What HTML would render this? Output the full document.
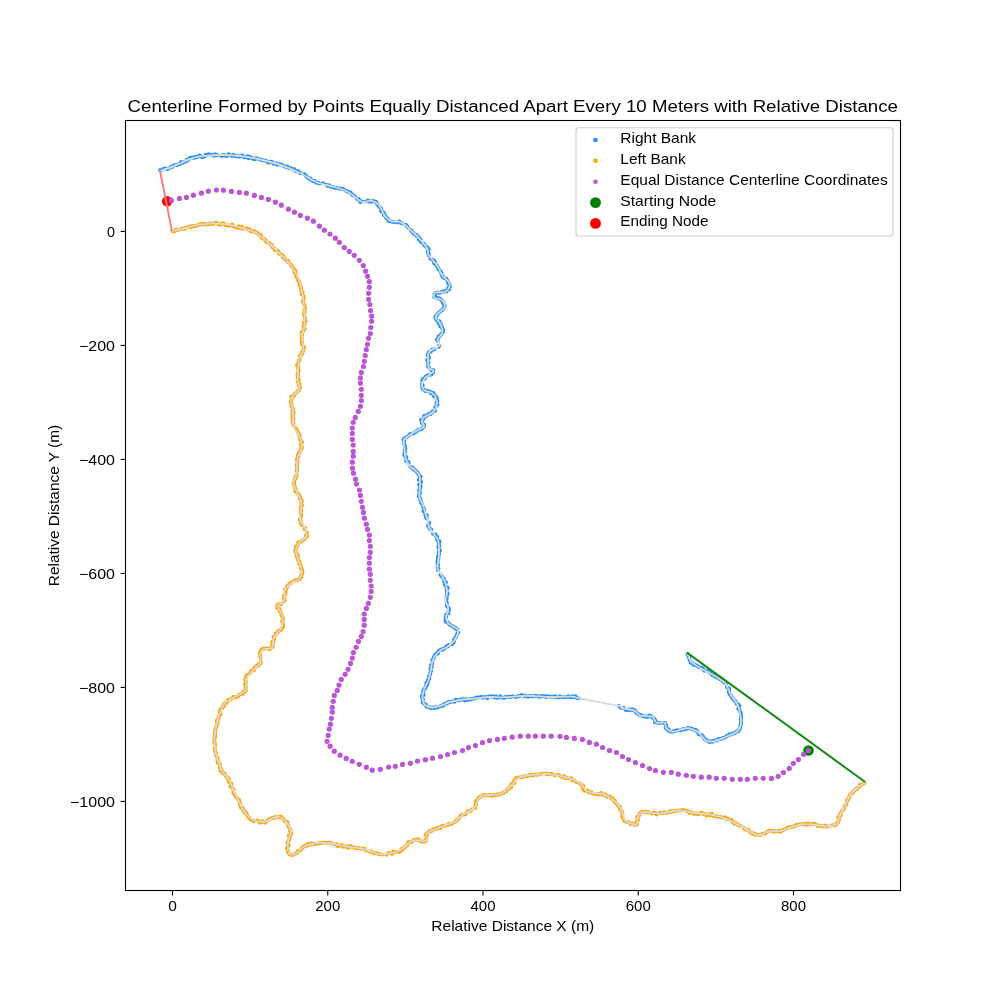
<!DOCTYPE html>
<html><head><meta charset="utf-8"><style>html,body{margin:0;padding:0;background:#fff;width:1000px;height:1000px;overflow:hidden}svg{will-change:transform}</style></head><body><svg width="1000" height="1000" viewBox="0 0 1000 1000" style="display:block;font-family:'Liberation Sans', sans-serif">
<rect width="1000" height="1000" fill="#fff"/>
<text x="127.6" y="112" font-size="17.2" textLength="770.4" lengthAdjust="spacingAndGlyphs" fill="#000">Centerline Formed by Points Equally Distanced Apart Every 10 Meters with Relative Distance</text>
<defs><clipPath id="ax"><rect x="125.5" y="120.5" width="775" height="770"/></clipPath></defs>
<g clip-path="url(#ax)" fill="none" stroke-linecap="round" stroke-linejoin="round">
<g fill="#1E90FF" stroke="none"><circle cx="159.9" cy="170.1" r="1.95"/><circle cx="161.1" cy="170.2" r="1.95"/><circle cx="163.6" cy="168.8" r="1.95"/><circle cx="165.3" cy="168.5" r="1.95"/><circle cx="167.3" cy="169.0" r="1.95"/><circle cx="169.1" cy="168.2" r="1.95"/><circle cx="170.9" cy="166.7" r="1.95"/><circle cx="172.4" cy="166.9" r="1.95"/><circle cx="173.5" cy="165.4" r="1.95"/><circle cx="175.3" cy="165.1" r="1.95"/><circle cx="177.1" cy="165.1" r="1.95"/><circle cx="178.6" cy="164.4" r="1.95"/><circle cx="179.8" cy="164.2" r="1.95"/><circle cx="181.0" cy="161.9" r="1.95"/><circle cx="183.0" cy="162.8" r="1.95"/><circle cx="184.4" cy="161.8" r="1.95"/><circle cx="186.3" cy="161.3" r="1.95"/><circle cx="186.9" cy="159.6" r="1.95"/><circle cx="188.4" cy="160.0" r="1.95"/><circle cx="189.3" cy="158.1" r="1.95"/><circle cx="191.2" cy="157.6" r="1.95"/><circle cx="192.9" cy="157.5" r="1.95"/><circle cx="194.3" cy="157.9" r="1.95"/><circle cx="195.4" cy="156.7" r="1.95"/><circle cx="196.8" cy="157.4" r="1.95"/><circle cx="198.5" cy="156.2" r="1.95"/><circle cx="199.8" cy="155.5" r="1.95"/><circle cx="201.8" cy="157.0" r="1.95"/><circle cx="202.6" cy="156.7" r="1.95"/><circle cx="204.6" cy="156.5" r="1.95"/><circle cx="205.8" cy="154.7" r="1.95"/><circle cx="207.0" cy="155.0" r="1.95"/><circle cx="208.5" cy="154.3" r="1.95"/><circle cx="210.7" cy="154.7" r="1.95"/><circle cx="211.9" cy="154.8" r="1.95"/><circle cx="214.1" cy="155.8" r="1.95"/><circle cx="215.0" cy="154.3" r="1.95"/><circle cx="216.7" cy="155.2" r="1.95"/><circle cx="218.2" cy="155.1" r="1.95"/><circle cx="221.8" cy="156.0" r="1.95"/><circle cx="222.8" cy="155.0" r="1.95"/><circle cx="224.4" cy="155.3" r="1.95"/><circle cx="226.3" cy="156.1" r="1.95"/><circle cx="227.4" cy="155.5" r="1.95"/><circle cx="228.8" cy="154.2" r="1.95"/><circle cx="231.0" cy="155.5" r="1.95"/><circle cx="232.5" cy="156.1" r="1.95"/><circle cx="233.4" cy="154.7" r="1.95"/><circle cx="235.4" cy="156.2" r="1.95"/><circle cx="236.2" cy="156.3" r="1.95"/><circle cx="238.2" cy="156.3" r="1.95"/><circle cx="239.3" cy="156.7" r="1.95"/><circle cx="241.0" cy="156.3" r="1.95"/><circle cx="242.4" cy="155.5" r="1.95"/><circle cx="243.8" cy="157.3" r="1.95"/><circle cx="245.6" cy="157.0" r="1.95"/><circle cx="247.7" cy="156.3" r="1.95"/><circle cx="248.6" cy="158.3" r="1.95"/><circle cx="250.1" cy="156.8" r="1.95"/><circle cx="251.5" cy="157.8" r="1.95"/><circle cx="253.0" cy="158.7" r="1.95"/><circle cx="254.5" cy="159.3" r="1.95"/><circle cx="256.1" cy="158.3" r="1.95"/><circle cx="257.2" cy="158.6" r="1.95"/><circle cx="259.3" cy="159.2" r="1.95"/><circle cx="260.7" cy="159.8" r="1.95"/><circle cx="262.0" cy="159.9" r="1.95"/><circle cx="263.8" cy="160.5" r="1.95"/><circle cx="265.5" cy="160.6" r="1.95"/><circle cx="266.8" cy="161.4" r="1.95"/><circle cx="268.3" cy="162.5" r="1.95"/><circle cx="270.0" cy="161.8" r="1.95"/><circle cx="271.1" cy="161.6" r="1.95"/><circle cx="272.4" cy="162.3" r="1.95"/><circle cx="273.5" cy="163.8" r="1.95"/><circle cx="276.1" cy="163.3" r="1.95"/><circle cx="276.8" cy="164.6" r="1.95"/><circle cx="278.0" cy="164.8" r="1.95"/><circle cx="279.6" cy="164.3" r="1.95"/><circle cx="281.4" cy="164.4" r="1.95"/><circle cx="283.8" cy="166.0" r="1.95"/><circle cx="285.6" cy="166.9" r="1.95"/><circle cx="287.4" cy="166.4" r="1.95"/><circle cx="288.5" cy="168.0" r="1.95"/><circle cx="290.1" cy="167.9" r="1.95"/><circle cx="290.9" cy="168.5" r="1.95"/><circle cx="293.0" cy="169.1" r="1.95"/><circle cx="294.4" cy="169.3" r="1.95"/><circle cx="295.3" cy="170.9" r="1.95"/><circle cx="296.7" cy="171.2" r="1.95"/><circle cx="298.3" cy="171.3" r="1.95"/><circle cx="299.7" cy="172.8" r="1.95"/><circle cx="300.8" cy="173.4" r="1.95"/><circle cx="304.5" cy="174.3" r="1.95"/><circle cx="305.6" cy="175.4" r="1.95"/><circle cx="306.7" cy="176.8" r="1.95"/><circle cx="308.2" cy="177.8" r="1.95"/><circle cx="309.2" cy="178.8" r="1.95"/><circle cx="310.5" cy="178.5" r="1.95"/><circle cx="311.6" cy="179.9" r="1.95"/><circle cx="313.3" cy="181.2" r="1.95"/><circle cx="314.5" cy="180.8" r="1.95"/><circle cx="315.5" cy="182.1" r="1.95"/><circle cx="316.9" cy="182.9" r="1.95"/><circle cx="318.4" cy="182.8" r="1.95"/><circle cx="319.9" cy="183.6" r="1.95"/><circle cx="323.0" cy="183.2" r="1.95"/><circle cx="326.2" cy="184.6" r="1.95"/><circle cx="327.5" cy="185.9" r="1.95"/><circle cx="329.3" cy="185.2" r="1.95"/><circle cx="330.0" cy="186.6" r="1.95"/><circle cx="332.2" cy="186.9" r="1.95"/><circle cx="333.6" cy="187.2" r="1.95"/><circle cx="335.1" cy="188.1" r="1.95"/><circle cx="336.4" cy="187.6" r="1.95"/><circle cx="337.9" cy="188.1" r="1.95"/><circle cx="339.6" cy="188.8" r="1.95"/><circle cx="341.7" cy="188.4" r="1.95"/><circle cx="342.8" cy="189.3" r="1.95"/><circle cx="343.9" cy="189.5" r="1.95"/><circle cx="345.8" cy="190.6" r="1.95"/><circle cx="346.8" cy="191.3" r="1.95"/><circle cx="348.0" cy="191.8" r="1.95"/><circle cx="349.8" cy="192.3" r="1.95"/><circle cx="350.8" cy="192.8" r="1.95"/><circle cx="352.0" cy="194.7" r="1.95"/><circle cx="353.3" cy="195.2" r="1.95"/><circle cx="355.1" cy="196.4" r="1.95"/><circle cx="357.0" cy="198.9" r="1.95"/><circle cx="358.8" cy="199.0" r="1.95"/><circle cx="359.6" cy="200.4" r="1.95"/><circle cx="360.3" cy="202.1" r="1.95"/><circle cx="362.4" cy="201.4" r="1.95"/><circle cx="366.1" cy="201.4" r="1.95"/><circle cx="368.0" cy="200.4" r="1.95"/><circle cx="369.2" cy="201.6" r="1.95"/><circle cx="370.7" cy="201.3" r="1.95"/><circle cx="372.2" cy="201.8" r="1.95"/><circle cx="373.6" cy="200.9" r="1.95"/><circle cx="375.9" cy="201.7" r="1.95"/><circle cx="376.5" cy="203.0" r="1.95"/><circle cx="377.8" cy="204.6" r="1.95"/><circle cx="378.4" cy="205.7" r="1.95"/><circle cx="379.5" cy="206.8" r="1.95"/><circle cx="380.6" cy="208.0" r="1.95"/><circle cx="381.3" cy="209.1" r="1.95"/><circle cx="381.1" cy="211.2" r="1.95"/><circle cx="382.6" cy="211.8" r="1.95"/><circle cx="384.3" cy="213.2" r="1.95"/><circle cx="383.9" cy="215.0" r="1.95"/><circle cx="384.9" cy="215.6" r="1.95"/><circle cx="385.9" cy="216.9" r="1.95"/><circle cx="386.5" cy="218.4" r="1.95"/><circle cx="388.0" cy="218.7" r="1.95"/><circle cx="388.5" cy="220.8" r="1.95"/><circle cx="390.1" cy="221.3" r="1.95"/><circle cx="392.0" cy="221.6" r="1.95"/><circle cx="393.0" cy="221.9" r="1.95"/><circle cx="395.0" cy="222.3" r="1.95"/><circle cx="398.2" cy="222.5" r="1.95"/><circle cx="399.3" cy="221.2" r="1.95"/><circle cx="401.2" cy="222.9" r="1.95"/><circle cx="402.1" cy="223.6" r="1.95"/><circle cx="405.6" cy="224.7" r="1.95"/><circle cx="406.3" cy="225.4" r="1.95"/><circle cx="407.2" cy="226.2" r="1.95"/><circle cx="408.1" cy="227.6" r="1.95"/><circle cx="411.0" cy="229.9" r="1.95"/><circle cx="411.4" cy="230.7" r="1.95"/><circle cx="412.2" cy="231.7" r="1.95"/><circle cx="413.4" cy="232.9" r="1.95"/><circle cx="414.1" cy="234.1" r="1.95"/><circle cx="416.2" cy="234.8" r="1.95"/><circle cx="416.8" cy="236.3" r="1.95"/><circle cx="418.7" cy="237.0" r="1.95"/><circle cx="418.8" cy="239.2" r="1.95"/><circle cx="420.5" cy="239.3" r="1.95"/><circle cx="420.6" cy="241.3" r="1.95"/><circle cx="421.6" cy="242.4" r="1.95"/><circle cx="424.0" cy="243.7" r="1.95"/><circle cx="424.3" cy="245.2" r="1.95"/><circle cx="425.2" cy="246.1" r="1.95"/><circle cx="426.5" cy="247.0" r="1.95"/><circle cx="427.7" cy="247.8" r="1.95"/><circle cx="428.8" cy="249.3" r="1.95"/><circle cx="427.8" cy="251.3" r="1.95"/><circle cx="427.9" cy="253.1" r="1.95"/><circle cx="428.8" cy="253.8" r="1.95"/><circle cx="428.8" cy="255.4" r="1.95"/><circle cx="430.3" cy="258.7" r="1.95"/><circle cx="432.2" cy="259.5" r="1.95"/><circle cx="433.7" cy="260.2" r="1.95"/><circle cx="435.0" cy="261.6" r="1.95"/><circle cx="434.1" cy="263.3" r="1.95"/><circle cx="435.8" cy="264.6" r="1.95"/><circle cx="437.0" cy="265.7" r="1.95"/><circle cx="437.5" cy="267.1" r="1.95"/><circle cx="438.3" cy="267.9" r="1.95"/><circle cx="438.5" cy="269.4" r="1.95"/><circle cx="440.0" cy="270.4" r="1.95"/><circle cx="441.3" cy="272.4" r="1.95"/><circle cx="441.3" cy="273.1" r="1.95"/><circle cx="441.6" cy="274.9" r="1.95"/><circle cx="442.8" cy="276.3" r="1.95"/><circle cx="443.2" cy="277.4" r="1.95"/><circle cx="444.8" cy="278.3" r="1.95"/><circle cx="446.4" cy="278.7" r="1.95"/><circle cx="447.3" cy="280.5" r="1.95"/><circle cx="448.3" cy="281.9" r="1.95"/><circle cx="448.2" cy="283.3" r="1.95"/><circle cx="449.4" cy="284.3" r="1.95"/><circle cx="450.0" cy="286.5" r="1.95"/><circle cx="448.5" cy="287.5" r="1.95"/><circle cx="449.1" cy="289.4" r="1.95"/><circle cx="447.5" cy="289.8" r="1.95"/><circle cx="446.5" cy="291.5" r="1.95"/><circle cx="444.8" cy="291.3" r="1.95"/><circle cx="443.3" cy="291.7" r="1.95"/><circle cx="442.1" cy="291.4" r="1.95"/><circle cx="440.5" cy="292.6" r="1.95"/><circle cx="438.8" cy="292.7" r="1.95"/><circle cx="437.4" cy="292.4" r="1.95"/><circle cx="435.7" cy="293.0" r="1.95"/><circle cx="434.4" cy="294.1" r="1.95"/><circle cx="434.9" cy="295.7" r="1.95"/><circle cx="434.2" cy="296.9" r="1.95"/><circle cx="435.4" cy="297.4" r="1.95"/><circle cx="436.7" cy="297.8" r="1.95"/><circle cx="437.7" cy="298.0" r="1.95"/><circle cx="439.7" cy="298.4" r="1.95"/><circle cx="440.8" cy="299.4" r="1.95"/><circle cx="441.8" cy="300.8" r="1.95"/><circle cx="442.9" cy="302.4" r="1.95"/><circle cx="443.5" cy="303.1" r="1.95"/><circle cx="443.9" cy="304.3" r="1.95"/><circle cx="444.7" cy="305.6" r="1.95"/><circle cx="444.4" cy="307.0" r="1.95"/><circle cx="443.0" cy="308.7" r="1.95"/><circle cx="442.6" cy="309.6" r="1.95"/><circle cx="441.5" cy="310.7" r="1.95"/><circle cx="440.0" cy="311.4" r="1.95"/><circle cx="438.6" cy="312.9" r="1.95"/><circle cx="437.5" cy="313.9" r="1.95"/><circle cx="437.1" cy="315.3" r="1.95"/><circle cx="435.4" cy="316.8" r="1.95"/><circle cx="435.4" cy="318.1" r="1.95"/><circle cx="436.1" cy="319.5" r="1.95"/><circle cx="437.4" cy="320.9" r="1.95"/><circle cx="439.5" cy="321.2" r="1.95"/><circle cx="438.8" cy="323.5" r="1.95"/><circle cx="441.0" cy="324.1" r="1.95"/><circle cx="440.3" cy="326.2" r="1.95"/><circle cx="442.1" cy="327.0" r="1.95"/><circle cx="442.1" cy="328.3" r="1.95"/><circle cx="443.4" cy="330.1" r="1.95"/><circle cx="443.2" cy="331.5" r="1.95"/><circle cx="441.6" cy="333.4" r="1.95"/><circle cx="441.4" cy="334.1" r="1.95"/><circle cx="440.2" cy="335.9" r="1.95"/><circle cx="438.7" cy="336.3" r="1.95"/><circle cx="437.9" cy="338.5" r="1.95"/><circle cx="436.8" cy="339.6" r="1.95"/><circle cx="437.8" cy="340.9" r="1.95"/><circle cx="439.1" cy="345.4" r="1.95"/><circle cx="438.6" cy="347.1" r="1.95"/><circle cx="434.4" cy="349.3" r="1.95"/><circle cx="432.3" cy="349.4" r="1.95"/><circle cx="431.8" cy="350.5" r="1.95"/><circle cx="430.6" cy="351.8" r="1.95"/><circle cx="429.0" cy="352.0" r="1.95"/><circle cx="428.2" cy="353.8" r="1.95"/><circle cx="427.5" cy="355.1" r="1.95"/><circle cx="428.7" cy="356.8" r="1.95"/><circle cx="428.9" cy="358.0" r="1.95"/><circle cx="427.1" cy="359.9" r="1.95"/><circle cx="428.4" cy="361.9" r="1.95"/><circle cx="428.6" cy="362.8" r="1.95"/><circle cx="428.2" cy="364.3" r="1.95"/><circle cx="428.1" cy="366.6" r="1.95"/><circle cx="429.1" cy="367.5" r="1.95"/><circle cx="431.5" cy="370.2" r="1.95"/><circle cx="433.4" cy="370.1" r="1.95"/><circle cx="433.1" cy="371.8" r="1.95"/><circle cx="432.7" cy="372.9" r="1.95"/><circle cx="431.5" cy="374.4" r="1.95"/><circle cx="430.1" cy="374.9" r="1.95"/><circle cx="428.1" cy="375.1" r="1.95"/><circle cx="426.6" cy="376.0" r="1.95"/><circle cx="425.3" cy="377.0" r="1.95"/><circle cx="424.7" cy="378.7" r="1.95"/><circle cx="422.9" cy="378.9" r="1.95"/><circle cx="422.2" cy="380.5" r="1.95"/><circle cx="421.8" cy="384.1" r="1.95"/><circle cx="422.8" cy="385.4" r="1.95"/><circle cx="422.1" cy="387.0" r="1.95"/><circle cx="422.7" cy="388.8" r="1.95"/><circle cx="424.1" cy="389.8" r="1.95"/><circle cx="425.3" cy="391.0" r="1.95"/><circle cx="426.4" cy="390.8" r="1.95"/><circle cx="428.2" cy="391.0" r="1.95"/><circle cx="430.0" cy="391.6" r="1.95"/><circle cx="430.9" cy="393.6" r="1.95"/><circle cx="432.9" cy="392.6" r="1.95"/><circle cx="434.1" cy="394.3" r="1.95"/><circle cx="434.0" cy="396.2" r="1.95"/><circle cx="436.1" cy="396.8" r="1.95"/><circle cx="436.9" cy="398.2" r="1.95"/><circle cx="437.0" cy="399.6" r="1.95"/><circle cx="437.4" cy="401.2" r="1.95"/><circle cx="436.4" cy="402.7" r="1.95"/><circle cx="437.6" cy="404.8" r="1.95"/><circle cx="436.2" cy="405.9" r="1.95"/><circle cx="435.1" cy="407.6" r="1.95"/><circle cx="435.0" cy="410.7" r="1.95"/><circle cx="432.6" cy="411.2" r="1.95"/><circle cx="432.1" cy="412.5" r="1.95"/><circle cx="430.7" cy="414.1" r="1.95"/><circle cx="429.0" cy="413.8" r="1.95"/><circle cx="427.6" cy="414.9" r="1.95"/><circle cx="426.5" cy="416.0" r="1.95"/><circle cx="424.4" cy="415.8" r="1.95"/><circle cx="423.9" cy="417.4" r="1.95"/><circle cx="423.5" cy="418.9" r="1.95"/><circle cx="421.0" cy="419.6" r="1.95"/><circle cx="421.6" cy="421.5" r="1.95"/><circle cx="421.9" cy="422.9" r="1.95"/><circle cx="424.1" cy="424.4" r="1.95"/><circle cx="424.2" cy="426.0" r="1.95"/><circle cx="423.0" cy="427.4" r="1.95"/><circle cx="422.0" cy="428.4" r="1.95"/><circle cx="420.6" cy="429.6" r="1.95"/><circle cx="418.7" cy="429.5" r="1.95"/><circle cx="417.1" cy="430.7" r="1.95"/><circle cx="416.2" cy="431.6" r="1.95"/><circle cx="414.6" cy="432.4" r="1.95"/><circle cx="413.3" cy="433.5" r="1.95"/><circle cx="411.8" cy="433.6" r="1.95"/><circle cx="409.6" cy="434.1" r="1.95"/><circle cx="409.1" cy="435.3" r="1.95"/><circle cx="407.6" cy="436.6" r="1.95"/><circle cx="406.4" cy="437.3" r="1.95"/><circle cx="404.3" cy="438.1" r="1.95"/><circle cx="403.5" cy="439.7" r="1.95"/><circle cx="404.3" cy="440.9" r="1.95"/><circle cx="404.1" cy="443.6" r="1.95"/><circle cx="404.7" cy="445.5" r="1.95"/><circle cx="405.1" cy="446.7" r="1.95"/><circle cx="405.4" cy="448.7" r="1.95"/><circle cx="404.7" cy="449.7" r="1.95"/><circle cx="405.0" cy="451.7" r="1.95"/><circle cx="404.6" cy="453.0" r="1.95"/><circle cx="404.2" cy="454.9" r="1.95"/><circle cx="405.1" cy="456.0" r="1.95"/><circle cx="406.4" cy="457.2" r="1.95"/><circle cx="406.1" cy="458.8" r="1.95"/><circle cx="406.1" cy="460.9" r="1.95"/><circle cx="408.1" cy="461.8" r="1.95"/><circle cx="408.8" cy="463.0" r="1.95"/><circle cx="410.4" cy="466.7" r="1.95"/><circle cx="412.5" cy="467.4" r="1.95"/><circle cx="413.1" cy="469.1" r="1.95"/><circle cx="414.7" cy="470.0" r="1.95"/><circle cx="415.6" cy="470.8" r="1.95"/><circle cx="416.9" cy="471.8" r="1.95"/><circle cx="417.5" cy="472.7" r="1.95"/><circle cx="418.3" cy="473.9" r="1.95"/><circle cx="419.3" cy="475.4" r="1.95"/><circle cx="420.8" cy="476.6" r="1.95"/><circle cx="419.9" cy="478.1" r="1.95"/><circle cx="418.8" cy="479.7" r="1.95"/><circle cx="420.9" cy="481.3" r="1.95"/><circle cx="420.7" cy="482.8" r="1.95"/><circle cx="419.0" cy="484.6" r="1.95"/><circle cx="420.6" cy="485.9" r="1.95"/><circle cx="420.1" cy="487.2" r="1.95"/><circle cx="420.0" cy="489.3" r="1.95"/><circle cx="419.0" cy="490.5" r="1.95"/><circle cx="419.9" cy="492.3" r="1.95"/><circle cx="419.5" cy="493.5" r="1.95"/><circle cx="419.4" cy="494.8" r="1.95"/><circle cx="418.8" cy="496.3" r="1.95"/><circle cx="420.3" cy="498.2" r="1.95"/><circle cx="420.3" cy="500.0" r="1.95"/><circle cx="420.9" cy="501.3" r="1.95"/><circle cx="421.2" cy="502.7" r="1.95"/><circle cx="421.7" cy="503.6" r="1.95"/><circle cx="423.0" cy="506.6" r="1.95"/><circle cx="423.5" cy="507.9" r="1.95"/><circle cx="424.3" cy="509.3" r="1.95"/><circle cx="423.6" cy="511.2" r="1.95"/><circle cx="425.2" cy="514.4" r="1.95"/><circle cx="426.9" cy="515.3" r="1.95"/><circle cx="426.0" cy="517.3" r="1.95"/><circle cx="426.8" cy="518.5" r="1.95"/><circle cx="429.3" cy="522.8" r="1.95"/><circle cx="428.6" cy="524.7" r="1.95"/><circle cx="428.0" cy="525.7" r="1.95"/><circle cx="429.2" cy="527.7" r="1.95"/><circle cx="429.9" cy="528.7" r="1.95"/><circle cx="431.5" cy="529.8" r="1.95"/><circle cx="433.0" cy="533.8" r="1.95"/><circle cx="435.4" cy="534.5" r="1.95"/><circle cx="435.9" cy="535.9" r="1.95"/><circle cx="437.3" cy="536.9" r="1.95"/><circle cx="437.1" cy="538.6" r="1.95"/><circle cx="437.5" cy="540.3" r="1.95"/><circle cx="439.5" cy="541.3" r="1.95"/><circle cx="439.0" cy="543.0" r="1.95"/><circle cx="438.5" cy="544.1" r="1.95"/><circle cx="439.3" cy="545.7" r="1.95"/><circle cx="438.3" cy="547.0" r="1.95"/><circle cx="439.2" cy="549.1" r="1.95"/><circle cx="440.0" cy="550.6" r="1.95"/><circle cx="438.7" cy="552.1" r="1.95"/><circle cx="438.9" cy="553.3" r="1.95"/><circle cx="439.0" cy="554.8" r="1.95"/><circle cx="437.8" cy="556.7" r="1.95"/><circle cx="438.5" cy="558.0" r="1.95"/><circle cx="438.0" cy="559.2" r="1.95"/><circle cx="437.7" cy="561.2" r="1.95"/><circle cx="437.4" cy="562.7" r="1.95"/><circle cx="438.0" cy="564.2" r="1.95"/><circle cx="437.8" cy="565.7" r="1.95"/><circle cx="437.6" cy="567.5" r="1.95"/><circle cx="438.4" cy="568.6" r="1.95"/><circle cx="438.0" cy="570.0" r="1.95"/><circle cx="440.5" cy="574.4" r="1.95"/><circle cx="441.2" cy="575.9" r="1.95"/><circle cx="442.3" cy="576.7" r="1.95"/><circle cx="444.1" cy="579.0" r="1.95"/><circle cx="444.0" cy="581.6" r="1.95"/><circle cx="446.0" cy="582.2" r="1.95"/><circle cx="444.8" cy="584.3" r="1.95"/><circle cx="445.5" cy="585.7" r="1.95"/><circle cx="447.5" cy="587.4" r="1.95"/><circle cx="447.4" cy="588.4" r="1.95"/><circle cx="446.6" cy="589.7" r="1.95"/><circle cx="446.8" cy="592.0" r="1.95"/><circle cx="447.7" cy="593.6" r="1.95"/><circle cx="447.1" cy="594.9" r="1.95"/><circle cx="446.6" cy="595.8" r="1.95"/><circle cx="446.5" cy="597.4" r="1.95"/><circle cx="446.7" cy="598.9" r="1.95"/><circle cx="446.5" cy="602.0" r="1.95"/><circle cx="446.8" cy="602.7" r="1.95"/><circle cx="446.6" cy="604.9" r="1.95"/><circle cx="447.2" cy="606.4" r="1.95"/><circle cx="448.2" cy="607.6" r="1.95"/><circle cx="449.2" cy="608.9" r="1.95"/><circle cx="448.6" cy="610.9" r="1.95"/><circle cx="448.5" cy="612.0" r="1.95"/><circle cx="448.4" cy="613.4" r="1.95"/><circle cx="446.1" cy="614.8" r="1.95"/><circle cx="446.2" cy="616.4" r="1.95"/><circle cx="445.6" cy="617.7" r="1.95"/><circle cx="445.3" cy="619.9" r="1.95"/><circle cx="445.8" cy="621.7" r="1.95"/><circle cx="447.8" cy="622.5" r="1.95"/><circle cx="449.0" cy="623.6" r="1.95"/><circle cx="449.6" cy="624.5" r="1.95"/><circle cx="450.9" cy="625.4" r="1.95"/><circle cx="452.7" cy="626.2" r="1.95"/><circle cx="454.1" cy="627.4" r="1.95"/><circle cx="455.4" cy="627.6" r="1.95"/><circle cx="456.3" cy="629.2" r="1.95"/><circle cx="457.6" cy="629.8" r="1.95"/><circle cx="458.4" cy="632.6" r="1.95"/><circle cx="457.0" cy="633.9" r="1.95"/><circle cx="456.5" cy="635.9" r="1.95"/><circle cx="456.0" cy="637.4" r="1.95"/><circle cx="454.9" cy="638.3" r="1.95"/><circle cx="453.9" cy="639.9" r="1.95"/><circle cx="453.6" cy="641.2" r="1.95"/><circle cx="453.6" cy="642.6" r="1.95"/><circle cx="451.9" cy="644.2" r="1.95"/><circle cx="448.7" cy="644.9" r="1.95"/><circle cx="447.8" cy="646.5" r="1.95"/><circle cx="446.4" cy="646.3" r="1.95"/><circle cx="445.2" cy="647.7" r="1.95"/><circle cx="443.6" cy="648.7" r="1.95"/><circle cx="442.7" cy="649.8" r="1.95"/><circle cx="441.0" cy="649.5" r="1.95"/><circle cx="439.5" cy="650.4" r="1.95"/><circle cx="438.2" cy="651.4" r="1.95"/><circle cx="437.9" cy="653.5" r="1.95"/><circle cx="436.2" cy="653.7" r="1.95"/><circle cx="435.0" cy="654.9" r="1.95"/><circle cx="434.1" cy="656.8" r="1.95"/><circle cx="433.8" cy="657.9" r="1.95"/><circle cx="432.6" cy="659.6" r="1.95"/><circle cx="432.4" cy="661.1" r="1.95"/><circle cx="432.3" cy="663.8" r="1.95"/><circle cx="430.9" cy="665.1" r="1.95"/><circle cx="431.7" cy="666.8" r="1.95"/><circle cx="430.5" cy="668.5" r="1.95"/><circle cx="430.6" cy="670.0" r="1.95"/><circle cx="430.9" cy="671.3" r="1.95"/><circle cx="430.3" cy="672.9" r="1.95"/><circle cx="430.2" cy="674.6" r="1.95"/><circle cx="429.2" cy="676.1" r="1.95"/><circle cx="429.3" cy="677.4" r="1.95"/><circle cx="429.1" cy="679.1" r="1.95"/><circle cx="427.8" cy="680.2" r="1.95"/><circle cx="428.2" cy="681.9" r="1.95"/><circle cx="426.2" cy="682.9" r="1.95"/><circle cx="427.3" cy="684.8" r="1.95"/><circle cx="425.7" cy="686.2" r="1.95"/><circle cx="425.7" cy="687.7" r="1.95"/><circle cx="424.5" cy="688.9" r="1.95"/><circle cx="423.5" cy="689.9" r="1.95"/><circle cx="423.2" cy="691.5" r="1.95"/><circle cx="423.0" cy="692.8" r="1.95"/><circle cx="423.7" cy="694.9" r="1.95"/><circle cx="421.8" cy="696.0" r="1.95"/><circle cx="421.9" cy="697.5" r="1.95"/><circle cx="422.9" cy="698.9" r="1.95"/><circle cx="422.7" cy="700.7" r="1.95"/><circle cx="422.8" cy="702.6" r="1.95"/><circle cx="424.1" cy="703.7" r="1.95"/><circle cx="425.8" cy="704.4" r="1.95"/><circle cx="426.3" cy="706.2" r="1.95"/><circle cx="427.0" cy="706.9" r="1.95"/><circle cx="429.6" cy="707.3" r="1.95"/><circle cx="430.8" cy="708.2" r="1.95"/><circle cx="432.4" cy="707.4" r="1.95"/><circle cx="434.1" cy="708.2" r="1.95"/><circle cx="435.2" cy="707.1" r="1.95"/><circle cx="437.3" cy="707.5" r="1.95"/><circle cx="438.8" cy="706.6" r="1.95"/><circle cx="439.9" cy="706.4" r="1.95"/><circle cx="441.5" cy="705.7" r="1.95"/><circle cx="443.1" cy="705.7" r="1.95"/><circle cx="443.8" cy="704.1" r="1.95"/><circle cx="445.4" cy="703.5" r="1.95"/><circle cx="447.0" cy="703.6" r="1.95"/><circle cx="448.2" cy="702.0" r="1.95"/><circle cx="449.7" cy="702.2" r="1.95"/><circle cx="451.6" cy="701.5" r="1.95"/><circle cx="452.7" cy="701.4" r="1.95"/><circle cx="454.4" cy="701.7" r="1.95"/><circle cx="455.7" cy="699.8" r="1.95"/><circle cx="457.1" cy="700.1" r="1.95"/><circle cx="458.5" cy="700.3" r="1.95"/><circle cx="460.6" cy="699.5" r="1.95"/><circle cx="461.4" cy="699.7" r="1.95"/><circle cx="463.1" cy="699.3" r="1.95"/><circle cx="464.8" cy="700.5" r="1.95"/><circle cx="466.0" cy="699.2" r="1.95"/><circle cx="467.6" cy="700.1" r="1.95"/><circle cx="469.3" cy="699.1" r="1.95"/><circle cx="470.7" cy="699.6" r="1.95"/><circle cx="472.2" cy="698.6" r="1.95"/><circle cx="473.8" cy="698.8" r="1.95"/><circle cx="475.8" cy="697.8" r="1.95"/><circle cx="477.0" cy="697.5" r="1.95"/><circle cx="478.1" cy="697.6" r="1.95"/><circle cx="479.7" cy="697.3" r="1.95"/><circle cx="481.5" cy="696.8" r="1.95"/><circle cx="482.7" cy="697.7" r="1.95"/><circle cx="484.4" cy="697.1" r="1.95"/><circle cx="485.8" cy="696.9" r="1.95"/><circle cx="487.3" cy="698.3" r="1.95"/><circle cx="488.9" cy="696.3" r="1.95"/><circle cx="490.8" cy="696.6" r="1.95"/><circle cx="492.0" cy="696.3" r="1.95"/><circle cx="493.4" cy="696.4" r="1.95"/><circle cx="494.6" cy="697.6" r="1.95"/><circle cx="496.0" cy="696.4" r="1.95"/><circle cx="497.3" cy="697.9" r="1.95"/><circle cx="498.8" cy="697.4" r="1.95"/><circle cx="500.3" cy="696.3" r="1.95"/><circle cx="501.9" cy="697.6" r="1.95"/><circle cx="504.1" cy="698.1" r="1.95"/><circle cx="505.0" cy="697.0" r="1.95"/><circle cx="506.6" cy="697.1" r="1.95"/><circle cx="508.3" cy="696.6" r="1.95"/><circle cx="509.1" cy="696.8" r="1.95"/><circle cx="510.6" cy="696.9" r="1.95"/><circle cx="512.2" cy="696.2" r="1.95"/><circle cx="515.3" cy="697.0" r="1.95"/><circle cx="516.9" cy="696.7" r="1.95"/><circle cx="518.2" cy="696.3" r="1.95"/><circle cx="519.9" cy="696.0" r="1.95"/><circle cx="521.6" cy="694.9" r="1.95"/><circle cx="523.7" cy="695.6" r="1.95"/><circle cx="524.9" cy="696.4" r="1.95"/><circle cx="526.2" cy="695.8" r="1.95"/><circle cx="528.2" cy="696.7" r="1.95"/><circle cx="529.5" cy="695.7" r="1.95"/><circle cx="531.0" cy="696.1" r="1.95"/><circle cx="532.1" cy="696.5" r="1.95"/><circle cx="534.1" cy="696.0" r="1.95"/><circle cx="535.3" cy="695.8" r="1.95"/><circle cx="536.8" cy="695.9" r="1.95"/><circle cx="538.6" cy="696.4" r="1.95"/><circle cx="540.0" cy="696.8" r="1.95"/><circle cx="541.8" cy="695.9" r="1.95"/><circle cx="543.3" cy="696.4" r="1.95"/><circle cx="544.7" cy="696.3" r="1.95"/><circle cx="546.2" cy="697.0" r="1.95"/><circle cx="547.3" cy="696.3" r="1.95"/><circle cx="549.2" cy="696.4" r="1.95"/><circle cx="550.5" cy="696.6" r="1.95"/><circle cx="551.7" cy="696.7" r="1.95"/><circle cx="553.8" cy="696.7" r="1.95"/><circle cx="555.3" cy="696.3" r="1.95"/><circle cx="556.6" cy="697.4" r="1.95"/><circle cx="559.0" cy="697.3" r="1.95"/><circle cx="560.0" cy="696.1" r="1.95"/><circle cx="561.8" cy="697.1" r="1.95"/><circle cx="563.9" cy="697.1" r="1.95"/><circle cx="565.3" cy="697.1" r="1.95"/><circle cx="566.5" cy="697.1" r="1.95"/><circle cx="568.3" cy="696.2" r="1.95"/><circle cx="569.5" cy="697.0" r="1.95"/><circle cx="571.4" cy="697.3" r="1.95"/><circle cx="572.4" cy="696.2" r="1.95"/><circle cx="574.0" cy="697.1" r="1.95"/><circle cx="575.5" cy="696.3" r="1.95"/><circle cx="576.9" cy="698.1" r="1.95"/><circle cx="578.7" cy="698.4" r="1.95"/></g>
<g fill="#1E90FF" stroke="none"><circle cx="618.9" cy="705.9" r="1.95"/><circle cx="620.4" cy="707.6" r="1.95"/><circle cx="622.1" cy="707.7" r="1.95"/><circle cx="623.5" cy="707.8" r="1.95"/><circle cx="625.5" cy="709.8" r="1.95"/><circle cx="626.8" cy="710.0" r="1.95"/><circle cx="628.4" cy="709.4" r="1.95"/><circle cx="629.8" cy="710.4" r="1.95"/><circle cx="631.9" cy="709.1" r="1.95"/><circle cx="632.9" cy="710.0" r="1.95"/><circle cx="634.7" cy="710.3" r="1.95"/><circle cx="635.5" cy="711.2" r="1.95"/><circle cx="636.2" cy="712.7" r="1.95"/><circle cx="637.7" cy="713.5" r="1.95"/><circle cx="639.0" cy="714.6" r="1.95"/><circle cx="640.5" cy="714.9" r="1.95"/><circle cx="641.4" cy="715.6" r="1.95"/><circle cx="643.5" cy="716.3" r="1.95"/><circle cx="645.2" cy="716.6" r="1.95"/><circle cx="646.4" cy="716.4" r="1.95"/><circle cx="647.7" cy="717.0" r="1.95"/><circle cx="649.2" cy="715.5" r="1.95"/><circle cx="650.9" cy="716.1" r="1.95"/><circle cx="652.2" cy="717.6" r="1.95"/><circle cx="653.2" cy="717.8" r="1.95"/><circle cx="654.6" cy="719.1" r="1.95"/><circle cx="655.2" cy="720.5" r="1.95"/><circle cx="655.0" cy="722.3" r="1.95"/><circle cx="657.0" cy="722.5" r="1.95"/><circle cx="658.1" cy="722.9" r="1.95"/><circle cx="660.2" cy="722.9" r="1.95"/><circle cx="663.3" cy="722.9" r="1.95"/><circle cx="664.9" cy="722.8" r="1.95"/><circle cx="665.7" cy="724.6" r="1.95"/><circle cx="666.3" cy="725.7" r="1.95"/><circle cx="665.6" cy="727.6" r="1.95"/><circle cx="666.6" cy="729.1" r="1.95"/><circle cx="668.5" cy="729.2" r="1.95"/><circle cx="668.7" cy="730.7" r="1.95"/><circle cx="670.6" cy="731.6" r="1.95"/><circle cx="672.5" cy="731.5" r="1.95"/><circle cx="673.6" cy="731.5" r="1.95"/><circle cx="675.1" cy="731.0" r="1.95"/><circle cx="676.7" cy="730.2" r="1.95"/><circle cx="678.1" cy="730.5" r="1.95"/><circle cx="680.6" cy="730.3" r="1.95"/><circle cx="682.0" cy="730.0" r="1.95"/><circle cx="683.2" cy="728.9" r="1.95"/><circle cx="685.3" cy="729.2" r="1.95"/><circle cx="686.5" cy="728.7" r="1.95"/><circle cx="687.8" cy="727.9" r="1.95"/><circle cx="689.3" cy="728.5" r="1.95"/><circle cx="690.8" cy="728.4" r="1.95"/><circle cx="692.3" cy="729.0" r="1.95"/><circle cx="694.1" cy="729.7" r="1.95"/><circle cx="695.6" cy="729.8" r="1.95"/><circle cx="697.0" cy="731.3" r="1.95"/><circle cx="697.6" cy="732.0" r="1.95"/><circle cx="698.6" cy="733.9" r="1.95"/><circle cx="699.6" cy="734.6" r="1.95"/><circle cx="701.6" cy="734.9" r="1.95"/><circle cx="703.0" cy="736.4" r="1.95"/><circle cx="703.9" cy="738.1" r="1.95"/><circle cx="704.9" cy="739.3" r="1.95"/><circle cx="706.1" cy="739.8" r="1.95"/><circle cx="706.8" cy="740.4" r="1.95"/><circle cx="708.4" cy="741.4" r="1.95"/><circle cx="709.6" cy="742.0" r="1.95"/><circle cx="710.7" cy="741.3" r="1.95"/><circle cx="712.3" cy="741.7" r="1.95"/><circle cx="713.9" cy="740.4" r="1.95"/><circle cx="715.8" cy="740.6" r="1.95"/><circle cx="716.8" cy="740.4" r="1.95"/><circle cx="718.4" cy="739.0" r="1.95"/><circle cx="719.9" cy="739.3" r="1.95"/><circle cx="721.6" cy="738.8" r="1.95"/><circle cx="723.0" cy="737.9" r="1.95"/><circle cx="724.6" cy="737.6" r="1.95"/><circle cx="725.8" cy="736.9" r="1.95"/><circle cx="727.0" cy="735.7" r="1.95"/><circle cx="729.2" cy="735.3" r="1.95"/><circle cx="729.7" cy="734.1" r="1.95"/><circle cx="731.9" cy="734.2" r="1.95"/><circle cx="732.9" cy="733.3" r="1.95"/><circle cx="734.7" cy="733.3" r="1.95"/><circle cx="736.0" cy="731.9" r="1.95"/><circle cx="737.1" cy="731.3" r="1.95"/><circle cx="738.2" cy="731.3" r="1.95"/><circle cx="739.2" cy="729.8" r="1.95"/><circle cx="739.9" cy="728.4" r="1.95"/><circle cx="740.4" cy="726.5" r="1.95"/><circle cx="740.4" cy="725.0" r="1.95"/><circle cx="741.1" cy="724.1" r="1.95"/><circle cx="741.0" cy="722.5" r="1.95"/><circle cx="740.9" cy="721.0" r="1.95"/><circle cx="740.7" cy="719.5" r="1.95"/><circle cx="741.2" cy="717.4" r="1.95"/><circle cx="740.9" cy="716.0" r="1.95"/><circle cx="740.9" cy="713.9" r="1.95"/><circle cx="740.5" cy="712.2" r="1.95"/><circle cx="740.0" cy="711.6" r="1.95"/><circle cx="739.3" cy="709.4" r="1.95"/><circle cx="738.2" cy="708.8" r="1.95"/><circle cx="739.5" cy="706.0" r="1.95"/><circle cx="738.4" cy="704.5" r="1.95"/><circle cx="736.6" cy="703.7" r="1.95"/><circle cx="735.5" cy="701.2" r="1.95"/><circle cx="733.9" cy="700.1" r="1.95"/><circle cx="733.2" cy="698.9" r="1.95"/><circle cx="732.3" cy="697.7" r="1.95"/><circle cx="731.6" cy="696.5" r="1.95"/><circle cx="730.3" cy="694.7" r="1.95"/><circle cx="729.4" cy="693.7" r="1.95"/><circle cx="728.7" cy="692.1" r="1.95"/><circle cx="728.9" cy="690.5" r="1.95"/><circle cx="729.2" cy="688.8" r="1.95"/><circle cx="728.2" cy="687.8" r="1.95"/><circle cx="726.8" cy="687.0" r="1.95"/><circle cx="725.9" cy="683.5" r="1.95"/><circle cx="724.0" cy="682.6" r="1.95"/><circle cx="724.2" cy="680.8" r="1.95"/><circle cx="722.3" cy="680.8" r="1.95"/><circle cx="721.2" cy="679.2" r="1.95"/><circle cx="720.0" cy="679.3" r="1.95"/><circle cx="718.8" cy="677.8" r="1.95"/><circle cx="717.0" cy="677.5" r="1.95"/><circle cx="715.9" cy="676.9" r="1.95"/><circle cx="714.6" cy="676.0" r="1.95"/><circle cx="713.6" cy="674.8" r="1.95"/><circle cx="712.1" cy="675.0" r="1.95"/><circle cx="710.8" cy="673.3" r="1.95"/><circle cx="709.3" cy="672.4" r="1.95"/><circle cx="708.4" cy="671.1" r="1.95"/><circle cx="707.0" cy="670.5" r="1.95"/><circle cx="704.5" cy="670.8" r="1.95"/><circle cx="703.5" cy="669.4" r="1.95"/><circle cx="702.7" cy="668.2" r="1.95"/><circle cx="701.1" cy="667.4" r="1.95"/><circle cx="699.3" cy="667.4" r="1.95"/><circle cx="698.0" cy="666.5" r="1.95"/><circle cx="696.4" cy="665.4" r="1.95"/><circle cx="694.9" cy="665.0" r="1.95"/><circle cx="693.7" cy="664.9" r="1.95"/><circle cx="693.0" cy="663.5" r="1.95"/><circle cx="691.2" cy="662.9" r="1.95"/><circle cx="690.5" cy="661.7" r="1.95"/><circle cx="689.6" cy="660.0" r="1.95"/><circle cx="689.2" cy="658.6" r="1.95"/><circle cx="689.0" cy="656.4" r="1.95"/><circle cx="688.0" cy="655.4" r="1.95"/><circle cx="687.5" cy="653.6" r="1.95"/></g>
<g fill="#FFA500" stroke="none"><circle cx="172.3" cy="230.9" r="1.95"/><circle cx="173.4" cy="231.4" r="1.95"/><circle cx="174.8" cy="231.2" r="1.95"/><circle cx="176.0" cy="229.4" r="1.95"/><circle cx="177.5" cy="230.0" r="1.95"/><circle cx="179.2" cy="229.6" r="1.95"/><circle cx="180.8" cy="229.3" r="1.95"/><circle cx="182.5" cy="228.8" r="1.95"/><circle cx="184.9" cy="228.7" r="1.95"/><circle cx="185.7" cy="227.4" r="1.95"/><circle cx="188.9" cy="226.7" r="1.95"/><circle cx="190.9" cy="227.4" r="1.95"/><circle cx="191.8" cy="226.0" r="1.95"/><circle cx="193.5" cy="226.4" r="1.95"/><circle cx="195.0" cy="225.7" r="1.95"/><circle cx="196.4" cy="225.7" r="1.95"/><circle cx="198.2" cy="225.3" r="1.95"/><circle cx="199.4" cy="224.8" r="1.95"/><circle cx="201.1" cy="223.9" r="1.95"/><circle cx="202.5" cy="224.7" r="1.95"/><circle cx="204.0" cy="223.6" r="1.95"/><circle cx="204.9" cy="224.4" r="1.95"/><circle cx="206.5" cy="224.3" r="1.95"/><circle cx="208.3" cy="224.3" r="1.95"/><circle cx="209.8" cy="223.5" r="1.95"/><circle cx="211.1" cy="224.0" r="1.95"/><circle cx="213.1" cy="224.0" r="1.95"/><circle cx="214.5" cy="223.3" r="1.95"/><circle cx="215.9" cy="222.5" r="1.95"/><circle cx="217.0" cy="223.4" r="1.95"/><circle cx="218.5" cy="224.2" r="1.95"/><circle cx="220.0" cy="224.7" r="1.95"/><circle cx="221.5" cy="223.7" r="1.95"/><circle cx="223.5" cy="223.3" r="1.95"/><circle cx="224.9" cy="224.8" r="1.95"/><circle cx="226.1" cy="225.4" r="1.95"/><circle cx="227.9" cy="225.3" r="1.95"/><circle cx="229.5" cy="225.7" r="1.95"/><circle cx="231.4" cy="225.3" r="1.95"/><circle cx="232.5" cy="224.7" r="1.95"/><circle cx="233.8" cy="226.8" r="1.95"/><circle cx="236.8" cy="227.8" r="1.95"/><circle cx="238.7" cy="226.3" r="1.95"/><circle cx="239.7" cy="228.1" r="1.95"/><circle cx="241.8" cy="226.8" r="1.95"/><circle cx="243.0" cy="228.7" r="1.95"/><circle cx="246.3" cy="228.2" r="1.95"/><circle cx="247.4" cy="229.4" r="1.95"/><circle cx="249.4" cy="229.3" r="1.95"/><circle cx="250.1" cy="230.8" r="1.95"/><circle cx="251.2" cy="231.6" r="1.95"/><circle cx="253.4" cy="230.7" r="1.95"/><circle cx="254.4" cy="232.0" r="1.95"/><circle cx="256.0" cy="232.4" r="1.95"/><circle cx="257.5" cy="233.3" r="1.95"/><circle cx="258.7" cy="234.6" r="1.95"/><circle cx="260.2" cy="234.8" r="1.95"/><circle cx="261.4" cy="235.7" r="1.95"/><circle cx="261.5" cy="237.9" r="1.95"/><circle cx="263.6" cy="238.7" r="1.95"/><circle cx="265.0" cy="239.4" r="1.95"/><circle cx="265.9" cy="240.8" r="1.95"/><circle cx="266.7" cy="242.2" r="1.95"/><circle cx="269.3" cy="242.9" r="1.95"/><circle cx="270.3" cy="244.4" r="1.95"/><circle cx="271.8" cy="244.8" r="1.95"/><circle cx="272.6" cy="247.4" r="1.95"/><circle cx="274.1" cy="248.0" r="1.95"/><circle cx="274.5" cy="249.0" r="1.95"/><circle cx="275.2" cy="250.3" r="1.95"/><circle cx="277.7" cy="250.6" r="1.95"/><circle cx="278.6" cy="251.8" r="1.95"/><circle cx="278.9" cy="253.5" r="1.95"/><circle cx="280.3" cy="254.1" r="1.95"/><circle cx="281.7" cy="254.8" r="1.95"/><circle cx="283.0" cy="255.8" r="1.95"/><circle cx="282.7" cy="257.3" r="1.95"/><circle cx="284.7" cy="258.1" r="1.95"/><circle cx="285.2" cy="259.6" r="1.95"/><circle cx="286.7" cy="260.6" r="1.95"/><circle cx="288.3" cy="261.0" r="1.95"/><circle cx="288.8" cy="262.7" r="1.95"/><circle cx="290.9" cy="264.5" r="1.95"/><circle cx="291.2" cy="265.9" r="1.95"/><circle cx="292.7" cy="267.2" r="1.95"/><circle cx="293.5" cy="268.3" r="1.95"/><circle cx="293.9" cy="269.7" r="1.95"/><circle cx="295.6" cy="270.6" r="1.95"/><circle cx="294.6" cy="272.7" r="1.95"/><circle cx="296.2" cy="273.9" r="1.95"/><circle cx="296.1" cy="276.0" r="1.95"/><circle cx="296.6" cy="276.9" r="1.95"/><circle cx="297.8" cy="280.0" r="1.95"/><circle cx="299.0" cy="280.9" r="1.95"/><circle cx="299.5" cy="282.7" r="1.95"/><circle cx="299.4" cy="284.0" r="1.95"/><circle cx="299.6" cy="285.6" r="1.95"/><circle cx="301.0" cy="286.8" r="1.95"/><circle cx="301.0" cy="288.5" r="1.95"/><circle cx="301.1" cy="289.8" r="1.95"/><circle cx="301.7" cy="291.3" r="1.95"/><circle cx="302.7" cy="292.1" r="1.95"/><circle cx="301.5" cy="294.2" r="1.95"/><circle cx="303.3" cy="295.6" r="1.95"/><circle cx="303.5" cy="296.8" r="1.95"/><circle cx="303.7" cy="298.6" r="1.95"/><circle cx="303.0" cy="300.4" r="1.95"/><circle cx="303.0" cy="301.3" r="1.95"/><circle cx="303.4" cy="302.9" r="1.95"/><circle cx="304.1" cy="304.2" r="1.95"/><circle cx="304.4" cy="305.6" r="1.95"/><circle cx="304.7" cy="307.9" r="1.95"/><circle cx="304.9" cy="308.8" r="1.95"/><circle cx="304.1" cy="310.5" r="1.95"/><circle cx="305.0" cy="312.1" r="1.95"/><circle cx="303.7" cy="314.1" r="1.95"/><circle cx="303.9" cy="315.1" r="1.95"/><circle cx="304.7" cy="317.0" r="1.95"/><circle cx="304.9" cy="318.6" r="1.95"/><circle cx="305.1" cy="319.4" r="1.95"/><circle cx="305.6" cy="321.3" r="1.95"/><circle cx="303.6" cy="322.7" r="1.95"/><circle cx="304.6" cy="324.6" r="1.95"/><circle cx="303.6" cy="325.6" r="1.95"/><circle cx="303.6" cy="327.3" r="1.95"/><circle cx="304.6" cy="328.8" r="1.95"/><circle cx="304.2" cy="330.0" r="1.95"/><circle cx="302.7" cy="331.2" r="1.95"/><circle cx="301.7" cy="332.3" r="1.95"/><circle cx="302.3" cy="334.4" r="1.95"/><circle cx="301.6" cy="335.9" r="1.95"/><circle cx="301.5" cy="337.6" r="1.95"/><circle cx="301.8" cy="338.7" r="1.95"/><circle cx="301.7" cy="340.6" r="1.95"/><circle cx="301.5" cy="342.1" r="1.95"/><circle cx="302.3" cy="343.2" r="1.95"/><circle cx="302.2" cy="345.0" r="1.95"/><circle cx="304.0" cy="347.1" r="1.95"/><circle cx="303.7" cy="347.9" r="1.95"/><circle cx="303.2" cy="349.7" r="1.95"/><circle cx="303.1" cy="351.3" r="1.95"/><circle cx="301.6" cy="352.7" r="1.95"/><circle cx="302.1" cy="354.1" r="1.95"/><circle cx="300.4" cy="355.3" r="1.95"/><circle cx="299.6" cy="356.2" r="1.95"/><circle cx="299.8" cy="359.4" r="1.95"/><circle cx="298.7" cy="360.8" r="1.95"/><circle cx="298.6" cy="362.0" r="1.95"/><circle cx="297.8" cy="364.0" r="1.95"/><circle cx="297.0" cy="365.2" r="1.95"/><circle cx="298.3" cy="367.1" r="1.95"/><circle cx="298.0" cy="368.4" r="1.95"/><circle cx="298.6" cy="370.0" r="1.95"/><circle cx="298.5" cy="371.3" r="1.95"/><circle cx="297.9" cy="373.4" r="1.95"/><circle cx="297.4" cy="374.8" r="1.95"/><circle cx="298.3" cy="375.8" r="1.95"/><circle cx="297.6" cy="377.5" r="1.95"/><circle cx="298.6" cy="379.5" r="1.95"/><circle cx="298.6" cy="380.4" r="1.95"/><circle cx="297.8" cy="382.1" r="1.95"/><circle cx="299.5" cy="383.8" r="1.95"/><circle cx="298.7" cy="385.6" r="1.95"/><circle cx="299.8" cy="386.9" r="1.95"/><circle cx="299.9" cy="387.9" r="1.95"/><circle cx="299.4" cy="389.8" r="1.95"/><circle cx="298.0" cy="390.7" r="1.95"/><circle cx="297.1" cy="392.0" r="1.95"/><circle cx="295.5" cy="393.1" r="1.95"/><circle cx="294.4" cy="394.2" r="1.95"/><circle cx="294.1" cy="395.5" r="1.95"/><circle cx="292.9" cy="395.9" r="1.95"/><circle cx="291.2" cy="396.8" r="1.95"/><circle cx="291.8" cy="399.0" r="1.95"/><circle cx="291.2" cy="400.3" r="1.95"/><circle cx="290.6" cy="402.1" r="1.95"/><circle cx="291.5" cy="403.3" r="1.95"/><circle cx="291.6" cy="404.7" r="1.95"/><circle cx="291.8" cy="406.4" r="1.95"/><circle cx="293.0" cy="408.4" r="1.95"/><circle cx="292.8" cy="409.7" r="1.95"/><circle cx="292.3" cy="411.0" r="1.95"/><circle cx="293.7" cy="412.5" r="1.95"/><circle cx="292.3" cy="414.6" r="1.95"/><circle cx="293.1" cy="416.0" r="1.95"/><circle cx="292.2" cy="417.2" r="1.95"/><circle cx="293.5" cy="418.7" r="1.95"/><circle cx="292.6" cy="420.2" r="1.95"/><circle cx="293.2" cy="422.1" r="1.95"/><circle cx="293.3" cy="423.3" r="1.95"/><circle cx="293.3" cy="424.9" r="1.95"/><circle cx="295.6" cy="427.9" r="1.95"/><circle cx="296.0" cy="428.9" r="1.95"/><circle cx="297.1" cy="430.5" r="1.95"/><circle cx="297.7" cy="432.1" r="1.95"/><circle cx="298.2" cy="433.0" r="1.95"/><circle cx="299.1" cy="434.9" r="1.95"/><circle cx="299.6" cy="435.5" r="1.95"/><circle cx="299.6" cy="437.6" r="1.95"/><circle cx="300.2" cy="439.5" r="1.95"/><circle cx="300.6" cy="441.1" r="1.95"/><circle cx="302.1" cy="442.3" r="1.95"/><circle cx="300.6" cy="444.1" r="1.95"/><circle cx="301.2" cy="445.0" r="1.95"/><circle cx="301.8" cy="446.5" r="1.95"/><circle cx="301.8" cy="448.2" r="1.95"/><circle cx="300.8" cy="449.0" r="1.95"/><circle cx="300.5" cy="450.8" r="1.95"/><circle cx="299.2" cy="452.2" r="1.95"/><circle cx="298.9" cy="453.5" r="1.95"/><circle cx="297.9" cy="455.0" r="1.95"/><circle cx="298.3" cy="456.2" r="1.95"/><circle cx="297.4" cy="458.3" r="1.95"/><circle cx="296.9" cy="459.8" r="1.95"/><circle cx="297.6" cy="461.3" r="1.95"/><circle cx="297.1" cy="463.7" r="1.95"/><circle cx="296.8" cy="465.6" r="1.95"/><circle cx="297.1" cy="466.6" r="1.95"/><circle cx="297.2" cy="468.9" r="1.95"/><circle cx="296.8" cy="470.1" r="1.95"/><circle cx="296.8" cy="471.3" r="1.95"/><circle cx="296.9" cy="474.7" r="1.95"/><circle cx="295.7" cy="476.2" r="1.95"/><circle cx="296.0" cy="477.7" r="1.95"/><circle cx="295.0" cy="478.5" r="1.95"/><circle cx="294.6" cy="479.9" r="1.95"/><circle cx="294.3" cy="481.8" r="1.95"/><circle cx="293.5" cy="482.7" r="1.95"/><circle cx="294.4" cy="484.3" r="1.95"/><circle cx="294.4" cy="485.4" r="1.95"/><circle cx="295.0" cy="487.4" r="1.95"/><circle cx="295.7" cy="488.9" r="1.95"/><circle cx="295.2" cy="491.0" r="1.95"/><circle cx="296.1" cy="492.0" r="1.95"/><circle cx="297.8" cy="493.2" r="1.95"/><circle cx="298.5" cy="494.3" r="1.95"/><circle cx="299.3" cy="495.7" r="1.95"/><circle cx="300.0" cy="497.0" r="1.95"/><circle cx="299.6" cy="498.6" r="1.95"/><circle cx="301.5" cy="500.0" r="1.95"/><circle cx="301.8" cy="501.1" r="1.95"/><circle cx="301.1" cy="502.6" r="1.95"/><circle cx="301.7" cy="504.5" r="1.95"/><circle cx="301.9" cy="506.0" r="1.95"/><circle cx="300.6" cy="507.0" r="1.95"/><circle cx="300.8" cy="508.7" r="1.95"/><circle cx="301.1" cy="510.3" r="1.95"/><circle cx="301.0" cy="511.6" r="1.95"/><circle cx="300.6" cy="513.6" r="1.95"/><circle cx="301.3" cy="515.1" r="1.95"/><circle cx="301.1" cy="516.6" r="1.95"/><circle cx="299.8" cy="519.4" r="1.95"/><circle cx="300.6" cy="520.7" r="1.95"/><circle cx="300.8" cy="523.0" r="1.95"/><circle cx="301.3" cy="523.9" r="1.95"/><circle cx="302.2" cy="525.3" r="1.95"/><circle cx="305.2" cy="527.6" r="1.95"/><circle cx="304.7" cy="529.4" r="1.95"/><circle cx="306.9" cy="532.1" r="1.95"/><circle cx="307.1" cy="533.8" r="1.95"/><circle cx="305.9" cy="535.4" r="1.95"/><circle cx="307.1" cy="536.6" r="1.95"/><circle cx="305.6" cy="537.7" r="1.95"/><circle cx="304.7" cy="538.9" r="1.95"/><circle cx="302.9" cy="540.2" r="1.95"/><circle cx="301.5" cy="541.0" r="1.95"/><circle cx="300.3" cy="542.2" r="1.95"/><circle cx="298.3" cy="542.3" r="1.95"/><circle cx="298.1" cy="544.1" r="1.95"/><circle cx="297.4" cy="545.8" r="1.95"/><circle cx="295.9" cy="546.4" r="1.95"/><circle cx="296.3" cy="548.5" r="1.95"/><circle cx="295.3" cy="549.9" r="1.95"/><circle cx="295.5" cy="551.6" r="1.95"/><circle cx="296.5" cy="552.8" r="1.95"/><circle cx="296.3" cy="554.7" r="1.95"/><circle cx="297.9" cy="555.5" r="1.95"/><circle cx="297.0" cy="557.2" r="1.95"/><circle cx="298.1" cy="558.7" r="1.95"/><circle cx="298.2" cy="560.5" r="1.95"/><circle cx="299.7" cy="561.6" r="1.95"/><circle cx="299.0" cy="563.7" r="1.95"/><circle cx="300.5" cy="565.0" r="1.95"/><circle cx="301.2" cy="566.6" r="1.95"/><circle cx="300.6" cy="568.1" r="1.95"/><circle cx="301.9" cy="568.9" r="1.95"/><circle cx="302.3" cy="570.4" r="1.95"/><circle cx="302.6" cy="572.6" r="1.95"/><circle cx="302.1" cy="573.9" r="1.95"/><circle cx="300.9" cy="575.6" r="1.95"/><circle cx="301.2" cy="577.2" r="1.95"/><circle cx="299.7" cy="578.1" r="1.95"/><circle cx="299.4" cy="579.4" r="1.95"/><circle cx="297.4" cy="579.8" r="1.95"/><circle cx="296.0" cy="580.2" r="1.95"/><circle cx="294.4" cy="580.7" r="1.95"/><circle cx="291.4" cy="582.5" r="1.95"/><circle cx="290.9" cy="583.2" r="1.95"/><circle cx="289.3" cy="583.9" r="1.95"/><circle cx="287.9" cy="585.6" r="1.95"/><circle cx="286.8" cy="586.7" r="1.95"/><circle cx="286.5" cy="588.5" r="1.95"/><circle cx="284.9" cy="589.1" r="1.95"/><circle cx="285.7" cy="590.9" r="1.95"/><circle cx="285.4" cy="592.2" r="1.95"/><circle cx="285.3" cy="594.2" r="1.95"/><circle cx="284.1" cy="595.8" r="1.95"/><circle cx="283.8" cy="596.9" r="1.95"/><circle cx="283.9" cy="598.6" r="1.95"/><circle cx="284.8" cy="600.2" r="1.95"/><circle cx="283.6" cy="601.8" r="1.95"/><circle cx="280.8" cy="604.2" r="1.95"/><circle cx="279.4" cy="604.0" r="1.95"/><circle cx="277.6" cy="604.8" r="1.95"/><circle cx="277.2" cy="606.8" r="1.95"/><circle cx="277.4" cy="608.3" r="1.95"/><circle cx="279.6" cy="608.7" r="1.95"/><circle cx="279.7" cy="611.2" r="1.95"/><circle cx="280.8" cy="611.9" r="1.95"/><circle cx="281.6" cy="614.0" r="1.95"/><circle cx="281.3" cy="615.0" r="1.95"/><circle cx="282.1" cy="616.8" r="1.95"/><circle cx="282.8" cy="618.3" r="1.95"/><circle cx="282.8" cy="620.1" r="1.95"/><circle cx="282.2" cy="621.3" r="1.95"/><circle cx="282.7" cy="623.4" r="1.95"/><circle cx="283.1" cy="624.7" r="1.95"/><circle cx="283.1" cy="626.4" r="1.95"/><circle cx="282.3" cy="627.4" r="1.95"/><circle cx="281.5" cy="629.4" r="1.95"/><circle cx="280.3" cy="630.2" r="1.95"/><circle cx="278.4" cy="630.7" r="1.95"/><circle cx="277.9" cy="632.4" r="1.95"/><circle cx="275.9" cy="633.1" r="1.95"/><circle cx="275.6" cy="634.6" r="1.95"/><circle cx="274.5" cy="636.1" r="1.95"/><circle cx="273.4" cy="637.0" r="1.95"/><circle cx="274.3" cy="638.9" r="1.95"/><circle cx="273.5" cy="641.0" r="1.95"/><circle cx="272.2" cy="641.9" r="1.95"/><circle cx="273.0" cy="643.8" r="1.95"/><circle cx="272.3" cy="644.9" r="1.95"/><circle cx="272.8" cy="646.9" r="1.95"/><circle cx="271.5" cy="647.4" r="1.95"/><circle cx="270.3" cy="648.7" r="1.95"/><circle cx="269.1" cy="649.3" r="1.95"/><circle cx="267.1" cy="648.1" r="1.95"/><circle cx="265.6" cy="648.7" r="1.95"/><circle cx="263.4" cy="648.8" r="1.95"/><circle cx="261.8" cy="649.4" r="1.95"/><circle cx="260.8" cy="650.8" r="1.95"/><circle cx="259.8" cy="652.4" r="1.95"/><circle cx="260.1" cy="653.6" r="1.95"/><circle cx="260.1" cy="655.6" r="1.95"/><circle cx="260.2" cy="657.1" r="1.95"/><circle cx="260.7" cy="658.8" r="1.95"/><circle cx="260.7" cy="661.8" r="1.95"/><circle cx="260.5" cy="663.6" r="1.95"/><circle cx="258.5" cy="664.2" r="1.95"/><circle cx="258.6" cy="665.8" r="1.95"/><circle cx="256.7" cy="665.8" r="1.95"/><circle cx="255.4" cy="667.2" r="1.95"/><circle cx="254.1" cy="668.1" r="1.95"/><circle cx="253.9" cy="670.3" r="1.95"/><circle cx="251.5" cy="670.6" r="1.95"/><circle cx="250.9" cy="671.6" r="1.95"/><circle cx="250.0" cy="672.9" r="1.95"/><circle cx="248.9" cy="674.1" r="1.95"/><circle cx="247.2" cy="675.2" r="1.95"/><circle cx="246.2" cy="676.5" r="1.95"/><circle cx="245.7" cy="678.2" r="1.95"/><circle cx="245.2" cy="680.0" r="1.95"/><circle cx="245.7" cy="681.0" r="1.95"/><circle cx="245.8" cy="683.2" r="1.95"/><circle cx="245.0" cy="684.3" r="1.95"/><circle cx="245.9" cy="686.6" r="1.95"/><circle cx="245.7" cy="687.4" r="1.95"/><circle cx="245.7" cy="689.1" r="1.95"/><circle cx="245.9" cy="690.6" r="1.95"/><circle cx="244.9" cy="691.7" r="1.95"/><circle cx="243.2" cy="691.7" r="1.95"/><circle cx="242.7" cy="693.9" r="1.95"/><circle cx="241.0" cy="693.9" r="1.95"/><circle cx="239.1" cy="694.5" r="1.95"/><circle cx="238.6" cy="695.9" r="1.95"/><circle cx="237.1" cy="696.8" r="1.95"/><circle cx="235.3" cy="697.2" r="1.95"/><circle cx="233.4" cy="696.8" r="1.95"/><circle cx="232.6" cy="698.1" r="1.95"/><circle cx="230.9" cy="699.0" r="1.95"/><circle cx="229.4" cy="699.5" r="1.95"/><circle cx="227.9" cy="699.9" r="1.95"/><circle cx="227.4" cy="701.2" r="1.95"/><circle cx="226.5" cy="702.9" r="1.95"/><circle cx="225.0" cy="703.0" r="1.95"/><circle cx="223.8" cy="704.5" r="1.95"/><circle cx="224.2" cy="706.0" r="1.95"/><circle cx="222.6" cy="706.5" r="1.95"/><circle cx="222.2" cy="708.3" r="1.95"/><circle cx="220.3" cy="709.1" r="1.95"/><circle cx="220.3" cy="710.9" r="1.95"/><circle cx="219.5" cy="712.1" r="1.95"/><circle cx="220.6" cy="714.3" r="1.95"/><circle cx="218.7" cy="716.5" r="1.95"/><circle cx="218.5" cy="718.5" r="1.95"/><circle cx="217.7" cy="719.4" r="1.95"/><circle cx="216.7" cy="720.7" r="1.95"/><circle cx="217.5" cy="722.5" r="1.95"/><circle cx="217.2" cy="723.7" r="1.95"/><circle cx="216.9" cy="725.3" r="1.95"/><circle cx="216.4" cy="726.7" r="1.95"/><circle cx="215.5" cy="728.6" r="1.95"/><circle cx="215.7" cy="729.5" r="1.95"/><circle cx="215.1" cy="731.5" r="1.95"/><circle cx="214.9" cy="733.2" r="1.95"/><circle cx="215.0" cy="734.0" r="1.95"/><circle cx="214.9" cy="736.1" r="1.95"/><circle cx="214.9" cy="737.2" r="1.95"/><circle cx="214.5" cy="738.8" r="1.95"/><circle cx="214.4" cy="740.2" r="1.95"/><circle cx="214.0" cy="742.1" r="1.95"/><circle cx="214.8" cy="743.3" r="1.95"/><circle cx="215.4" cy="745.1" r="1.95"/><circle cx="214.6" cy="748.1" r="1.95"/><circle cx="214.9" cy="749.5" r="1.95"/><circle cx="215.2" cy="751.2" r="1.95"/><circle cx="216.2" cy="752.6" r="1.95"/><circle cx="215.9" cy="755.1" r="1.95"/><circle cx="217.0" cy="757.1" r="1.95"/><circle cx="217.8" cy="759.0" r="1.95"/><circle cx="217.5" cy="760.2" r="1.95"/><circle cx="217.9" cy="762.2" r="1.95"/><circle cx="218.2" cy="763.3" r="1.95"/><circle cx="219.8" cy="764.0" r="1.95"/><circle cx="219.9" cy="766.6" r="1.95"/><circle cx="220.0" cy="767.8" r="1.95"/><circle cx="221.1" cy="769.2" r="1.95"/><circle cx="220.5" cy="770.9" r="1.95"/><circle cx="222.3" cy="771.7" r="1.95"/><circle cx="222.7" cy="773.2" r="1.95"/><circle cx="224.7" cy="773.5" r="1.95"/><circle cx="225.1" cy="775.0" r="1.95"/><circle cx="226.4" cy="776.6" r="1.95"/><circle cx="227.5" cy="777.8" r="1.95"/><circle cx="229.0" cy="778.7" r="1.95"/><circle cx="228.4" cy="780.4" r="1.95"/><circle cx="228.9" cy="782.0" r="1.95"/><circle cx="229.9" cy="782.8" r="1.95"/><circle cx="231.5" cy="783.8" r="1.95"/><circle cx="230.4" cy="786.2" r="1.95"/><circle cx="231.9" cy="787.5" r="1.95"/><circle cx="232.9" cy="789.0" r="1.95"/><circle cx="233.8" cy="789.9" r="1.95"/><circle cx="233.3" cy="792.1" r="1.95"/><circle cx="233.8" cy="793.6" r="1.95"/><circle cx="234.8" cy="794.8" r="1.95"/><circle cx="235.4" cy="795.7" r="1.95"/><circle cx="236.4" cy="797.6" r="1.95"/><circle cx="237.8" cy="798.9" r="1.95"/><circle cx="238.9" cy="799.8" r="1.95"/><circle cx="239.2" cy="801.1" r="1.95"/><circle cx="239.9" cy="802.6" r="1.95"/><circle cx="239.9" cy="804.5" r="1.95"/><circle cx="240.8" cy="805.7" r="1.95"/><circle cx="241.0" cy="807.5" r="1.95"/><circle cx="243.0" cy="807.9" r="1.95"/><circle cx="243.2" cy="810.4" r="1.95"/><circle cx="244.7" cy="811.3" r="1.95"/><circle cx="244.5" cy="812.8" r="1.95"/><circle cx="246.4" cy="813.2" r="1.95"/><circle cx="246.9" cy="814.4" r="1.95"/><circle cx="247.6" cy="816.4" r="1.95"/><circle cx="249.2" cy="817.9" r="1.95"/><circle cx="249.7" cy="818.1" r="1.95"/><circle cx="251.0" cy="819.8" r="1.95"/><circle cx="253.9" cy="821.3" r="1.95"/><circle cx="257.3" cy="820.5" r="1.95"/><circle cx="258.8" cy="821.3" r="1.95"/><circle cx="259.8" cy="822.8" r="1.95"/><circle cx="261.8" cy="822.1" r="1.95"/><circle cx="262.7" cy="821.3" r="1.95"/><circle cx="265.0" cy="822.8" r="1.95"/><circle cx="265.8" cy="821.8" r="1.95"/><circle cx="267.7" cy="820.5" r="1.95"/><circle cx="268.4" cy="819.8" r="1.95"/><circle cx="270.2" cy="819.0" r="1.95"/><circle cx="271.9" cy="818.1" r="1.95"/><circle cx="273.1" cy="818.0" r="1.95"/><circle cx="274.7" cy="817.5" r="1.95"/><circle cx="275.8" cy="817.0" r="1.95"/><circle cx="278.0" cy="817.1" r="1.95"/><circle cx="279.2" cy="817.5" r="1.95"/><circle cx="280.8" cy="816.4" r="1.95"/><circle cx="282.0" cy="818.1" r="1.95"/><circle cx="283.5" cy="818.8" r="1.95"/><circle cx="284.4" cy="821.0" r="1.95"/><circle cx="286.1" cy="821.5" r="1.95"/><circle cx="287.4" cy="822.3" r="1.95"/><circle cx="287.8" cy="824.4" r="1.95"/><circle cx="288.6" cy="826.0" r="1.95"/><circle cx="289.2" cy="827.8" r="1.95"/><circle cx="290.8" cy="829.7" r="1.95"/><circle cx="290.1" cy="831.3" r="1.95"/><circle cx="291.3" cy="833.3" r="1.95"/><circle cx="290.7" cy="834.7" r="1.95"/><circle cx="288.8" cy="835.6" r="1.95"/><circle cx="289.7" cy="837.6" r="1.95"/><circle cx="289.2" cy="839.3" r="1.95"/><circle cx="288.7" cy="840.3" r="1.95"/><circle cx="287.6" cy="842.3" r="1.95"/><circle cx="287.7" cy="843.3" r="1.95"/><circle cx="288.6" cy="845.5" r="1.95"/><circle cx="287.3" cy="847.2" r="1.95"/><circle cx="287.0" cy="848.4" r="1.95"/><circle cx="287.9" cy="850.4" r="1.95"/><circle cx="287.8" cy="851.5" r="1.95"/><circle cx="288.2" cy="852.8" r="1.95"/><circle cx="290.0" cy="854.5" r="1.95"/><circle cx="291.7" cy="855.1" r="1.95"/><circle cx="293.6" cy="854.8" r="1.95"/><circle cx="294.9" cy="853.9" r="1.95"/><circle cx="296.3" cy="853.2" r="1.95"/><circle cx="297.2" cy="852.5" r="1.95"/><circle cx="297.9" cy="850.9" r="1.95"/><circle cx="299.8" cy="850.5" r="1.95"/><circle cx="300.9" cy="849.5" r="1.95"/><circle cx="301.7" cy="848.0" r="1.95"/><circle cx="303.0" cy="847.3" r="1.95"/><circle cx="304.0" cy="846.3" r="1.95"/><circle cx="305.1" cy="845.6" r="1.95"/><circle cx="307.1" cy="845.7" r="1.95"/><circle cx="308.0" cy="843.7" r="1.95"/><circle cx="309.9" cy="844.8" r="1.95"/><circle cx="311.1" cy="843.2" r="1.95"/><circle cx="312.9" cy="843.9" r="1.95"/><circle cx="314.6" cy="843.7" r="1.95"/><circle cx="315.9" cy="843.7" r="1.95"/><circle cx="317.1" cy="843.6" r="1.95"/><circle cx="319.1" cy="843.5" r="1.95"/><circle cx="320.2" cy="843.3" r="1.95"/><circle cx="321.5" cy="843.0" r="1.95"/><circle cx="323.4" cy="842.5" r="1.95"/><circle cx="326.1" cy="842.7" r="1.95"/><circle cx="328.1" cy="842.9" r="1.95"/><circle cx="329.7" cy="842.5" r="1.95"/><circle cx="331.3" cy="843.2" r="1.95"/><circle cx="332.5" cy="843.6" r="1.95"/><circle cx="335.3" cy="844.4" r="1.95"/><circle cx="336.7" cy="844.0" r="1.95"/><circle cx="337.7" cy="845.9" r="1.95"/><circle cx="339.3" cy="845.8" r="1.95"/><circle cx="341.6" cy="845.0" r="1.95"/><circle cx="342.6" cy="846.7" r="1.95"/><circle cx="344.2" cy="846.1" r="1.95"/><circle cx="345.8" cy="846.9" r="1.95"/><circle cx="347.2" cy="846.2" r="1.95"/><circle cx="348.3" cy="847.7" r="1.95"/><circle cx="350.1" cy="845.9" r="1.95"/><circle cx="351.9" cy="847.0" r="1.95"/><circle cx="353.8" cy="847.2" r="1.95"/><circle cx="354.9" cy="848.0" r="1.95"/><circle cx="356.4" cy="848.4" r="1.95"/><circle cx="358.0" cy="847.9" r="1.95"/><circle cx="359.4" cy="848.2" r="1.95"/><circle cx="361.2" cy="848.6" r="1.95"/><circle cx="363.1" cy="848.6" r="1.95"/><circle cx="364.4" cy="848.7" r="1.95"/><circle cx="365.4" cy="849.5" r="1.95"/><circle cx="366.9" cy="850.6" r="1.95"/><circle cx="370.1" cy="851.8" r="1.95"/><circle cx="371.4" cy="851.3" r="1.95"/><circle cx="372.7" cy="852.6" r="1.95"/><circle cx="374.1" cy="852.9" r="1.95"/><circle cx="375.5" cy="853.3" r="1.95"/><circle cx="377.2" cy="853.2" r="1.95"/><circle cx="378.8" cy="854.2" r="1.95"/><circle cx="380.3" cy="854.2" r="1.95"/><circle cx="381.5" cy="854.4" r="1.95"/><circle cx="382.8" cy="854.6" r="1.95"/><circle cx="386.6" cy="854.7" r="1.95"/><circle cx="388.1" cy="853.3" r="1.95"/><circle cx="391.2" cy="853.3" r="1.95"/><circle cx="392.3" cy="853.9" r="1.95"/><circle cx="393.4" cy="851.5" r="1.95"/><circle cx="395.3" cy="852.1" r="1.95"/><circle cx="397.4" cy="851.6" r="1.95"/><circle cx="399.0" cy="852.0" r="1.95"/><circle cx="400.7" cy="851.1" r="1.95"/><circle cx="401.3" cy="849.0" r="1.95"/><circle cx="402.5" cy="849.5" r="1.95"/><circle cx="403.9" cy="848.2" r="1.95"/><circle cx="404.8" cy="847.1" r="1.95"/><circle cx="406.2" cy="845.9" r="1.95"/><circle cx="407.6" cy="845.1" r="1.95"/><circle cx="407.7" cy="843.0" r="1.95"/><circle cx="408.8" cy="842.0" r="1.95"/><circle cx="410.5" cy="841.8" r="1.95"/><circle cx="412.0" cy="841.7" r="1.95"/><circle cx="413.4" cy="840.1" r="1.95"/><circle cx="414.6" cy="839.9" r="1.95"/><circle cx="416.5" cy="839.9" r="1.95"/><circle cx="418.2" cy="839.3" r="1.95"/><circle cx="419.6" cy="840.7" r="1.95"/><circle cx="421.1" cy="841.5" r="1.95"/><circle cx="423.2" cy="841.4" r="1.95"/><circle cx="424.4" cy="841.8" r="1.95"/><circle cx="425.9" cy="841.0" r="1.95"/><circle cx="426.5" cy="839.7" r="1.95"/><circle cx="426.3" cy="838.5" r="1.95"/><circle cx="426.8" cy="836.2" r="1.95"/><circle cx="425.4" cy="835.1" r="1.95"/><circle cx="426.3" cy="833.8" r="1.95"/><circle cx="427.6" cy="832.7" r="1.95"/><circle cx="429.2" cy="831.1" r="1.95"/><circle cx="430.9" cy="831.4" r="1.95"/><circle cx="432.5" cy="830.2" r="1.95"/><circle cx="433.5" cy="829.3" r="1.95"/><circle cx="435.1" cy="829.2" r="1.95"/><circle cx="436.9" cy="828.7" r="1.95"/><circle cx="437.7" cy="827.6" r="1.95"/><circle cx="440.3" cy="828.2" r="1.95"/><circle cx="441.4" cy="826.1" r="1.95"/><circle cx="442.8" cy="825.7" r="1.95"/><circle cx="444.5" cy="825.6" r="1.95"/><circle cx="446.1" cy="825.4" r="1.95"/><circle cx="447.3" cy="825.4" r="1.95"/><circle cx="448.8" cy="823.7" r="1.95"/><circle cx="450.2" cy="824.0" r="1.95"/><circle cx="451.5" cy="824.0" r="1.95"/><circle cx="453.4" cy="822.7" r="1.95"/><circle cx="454.9" cy="821.9" r="1.95"/><circle cx="456.0" cy="820.8" r="1.95"/><circle cx="456.7" cy="819.8" r="1.95"/><circle cx="458.0" cy="819.6" r="1.95"/><circle cx="459.4" cy="817.9" r="1.95"/><circle cx="460.2" cy="816.1" r="1.95"/><circle cx="461.1" cy="815.7" r="1.95"/><circle cx="462.3" cy="814.8" r="1.95"/><circle cx="464.4" cy="814.6" r="1.95"/><circle cx="465.6" cy="814.0" r="1.95"/><circle cx="466.8" cy="812.1" r="1.95"/><circle cx="467.8" cy="811.3" r="1.95"/><circle cx="469.8" cy="810.7" r="1.95"/><circle cx="471.0" cy="810.7" r="1.95"/><circle cx="472.2" cy="809.1" r="1.95"/><circle cx="475.3" cy="808.1" r="1.95"/><circle cx="475.4" cy="805.5" r="1.95"/><circle cx="476.2" cy="804.7" r="1.95"/><circle cx="476.2" cy="802.9" r="1.95"/><circle cx="476.0" cy="801.3" r="1.95"/><circle cx="477.2" cy="800.1" r="1.95"/><circle cx="478.3" cy="798.5" r="1.95"/><circle cx="479.1" cy="797.3" r="1.95"/><circle cx="480.4" cy="797.0" r="1.95"/><circle cx="482.2" cy="796.0" r="1.95"/><circle cx="483.5" cy="794.9" r="1.95"/><circle cx="484.9" cy="795.1" r="1.95"/><circle cx="486.7" cy="795.5" r="1.95"/><circle cx="488.3" cy="795.3" r="1.95"/><circle cx="490.2" cy="794.7" r="1.95"/><circle cx="492.0" cy="795.9" r="1.95"/><circle cx="493.2" cy="795.0" r="1.95"/><circle cx="494.8" cy="795.0" r="1.95"/><circle cx="495.8" cy="795.1" r="1.95"/><circle cx="497.4" cy="794.3" r="1.95"/><circle cx="498.7" cy="794.7" r="1.95"/><circle cx="500.2" cy="794.2" r="1.95"/><circle cx="501.9" cy="793.2" r="1.95"/><circle cx="503.5" cy="793.1" r="1.95"/><circle cx="504.1" cy="792.3" r="1.95"/><circle cx="506.3" cy="791.3" r="1.95"/><circle cx="506.8" cy="789.7" r="1.95"/><circle cx="508.9" cy="788.9" r="1.95"/><circle cx="509.2" cy="787.4" r="1.95"/><circle cx="511.2" cy="787.0" r="1.95"/><circle cx="511.2" cy="784.8" r="1.95"/><circle cx="512.2" cy="783.7" r="1.95"/><circle cx="514.3" cy="783.2" r="1.95"/><circle cx="514.2" cy="780.8" r="1.95"/><circle cx="514.7" cy="780.3" r="1.95"/><circle cx="515.9" cy="778.3" r="1.95"/><circle cx="516.6" cy="777.8" r="1.95"/><circle cx="518.7" cy="777.4" r="1.95"/><circle cx="520.5" cy="777.2" r="1.95"/><circle cx="521.3" cy="777.4" r="1.95"/><circle cx="523.2" cy="776.9" r="1.95"/><circle cx="524.7" cy="775.9" r="1.95"/><circle cx="526.9" cy="776.2" r="1.95"/><circle cx="528.7" cy="775.8" r="1.95"/><circle cx="530.3" cy="774.7" r="1.95"/><circle cx="531.5" cy="775.0" r="1.95"/><circle cx="533.3" cy="775.3" r="1.95"/><circle cx="534.6" cy="774.4" r="1.95"/><circle cx="536.3" cy="774.5" r="1.95"/><circle cx="537.3" cy="774.7" r="1.95"/><circle cx="539.5" cy="774.3" r="1.95"/><circle cx="540.9" cy="774.3" r="1.95"/><circle cx="542.1" cy="773.4" r="1.95"/><circle cx="545.9" cy="773.7" r="1.95"/><circle cx="547.1" cy="774.3" r="1.95"/><circle cx="548.5" cy="774.2" r="1.95"/><circle cx="550.2" cy="774.3" r="1.95"/><circle cx="551.3" cy="773.8" r="1.95"/><circle cx="553.5" cy="774.6" r="1.95"/><circle cx="554.7" cy="775.4" r="1.95"/><circle cx="558.0" cy="774.6" r="1.95"/><circle cx="559.3" cy="775.3" r="1.95"/><circle cx="560.9" cy="776.4" r="1.95"/><circle cx="562.4" cy="776.8" r="1.95"/><circle cx="564.1" cy="776.0" r="1.95"/><circle cx="565.1" cy="778.0" r="1.95"/><circle cx="566.4" cy="777.4" r="1.95"/><circle cx="567.9" cy="778.1" r="1.95"/><circle cx="570.0" cy="778.6" r="1.95"/><circle cx="571.5" cy="778.3" r="1.95"/><circle cx="572.6" cy="780.3" r="1.95"/><circle cx="574.4" cy="780.5" r="1.95"/><circle cx="576.3" cy="782.1" r="1.95"/><circle cx="579.2" cy="783.1" r="1.95"/><circle cx="580.8" cy="784.1" r="1.95"/><circle cx="582.4" cy="785.3" r="1.95"/><circle cx="583.4" cy="786.0" r="1.95"/><circle cx="583.0" cy="787.9" r="1.95"/><circle cx="583.4" cy="789.0" r="1.95"/><circle cx="584.5" cy="790.7" r="1.95"/><circle cx="586.7" cy="790.5" r="1.95"/><circle cx="587.7" cy="790.8" r="1.95"/><circle cx="588.9" cy="792.5" r="1.95"/><circle cx="591.3" cy="792.2" r="1.95"/><circle cx="592.5" cy="793.5" r="1.95"/><circle cx="595.1" cy="794.4" r="1.95"/><circle cx="597.2" cy="794.3" r="1.95"/><circle cx="598.7" cy="794.0" r="1.95"/><circle cx="600.1" cy="793.9" r="1.95"/><circle cx="601.4" cy="792.9" r="1.95"/><circle cx="602.5" cy="794.7" r="1.95"/><circle cx="604.8" cy="794.1" r="1.95"/><circle cx="605.7" cy="794.7" r="1.95"/><circle cx="606.3" cy="795.9" r="1.95"/><circle cx="607.5" cy="796.8" r="1.95"/><circle cx="610.0" cy="796.5" r="1.95"/><circle cx="611.0" cy="798.5" r="1.95"/><circle cx="612.5" cy="798.5" r="1.95"/><circle cx="613.5" cy="800.6" r="1.95"/><circle cx="614.9" cy="800.6" r="1.95"/><circle cx="615.2" cy="802.4" r="1.95"/><circle cx="616.5" cy="803.7" r="1.95"/><circle cx="617.7" cy="805.0" r="1.95"/><circle cx="618.2" cy="806.0" r="1.95"/><circle cx="619.9" cy="806.9" r="1.95"/><circle cx="619.7" cy="808.8" r="1.95"/><circle cx="620.4" cy="809.8" r="1.95"/><circle cx="621.8" cy="811.4" r="1.95"/><circle cx="622.2" cy="812.5" r="1.95"/><circle cx="622.5" cy="814.6" r="1.95"/><circle cx="622.1" cy="816.3" r="1.95"/><circle cx="622.9" cy="817.9" r="1.95"/><circle cx="624.2" cy="820.7" r="1.95"/><circle cx="625.4" cy="821.4" r="1.95"/><circle cx="627.0" cy="822.1" r="1.95"/><circle cx="628.7" cy="822.2" r="1.95"/><circle cx="630.5" cy="824.0" r="1.95"/><circle cx="631.7" cy="823.1" r="1.95"/><circle cx="633.7" cy="823.9" r="1.95"/><circle cx="634.6" cy="824.8" r="1.95"/><circle cx="636.3" cy="824.8" r="1.95"/><circle cx="637.1" cy="824.1" r="1.95"/><circle cx="636.5" cy="821.6" r="1.95"/><circle cx="638.2" cy="820.1" r="1.95"/><circle cx="637.4" cy="818.5" r="1.95"/><circle cx="637.1" cy="816.8" r="1.95"/><circle cx="639.0" cy="815.5" r="1.95"/><circle cx="639.1" cy="814.1" r="1.95"/><circle cx="639.6" cy="813.5" r="1.95"/><circle cx="641.1" cy="812.1" r="1.95"/><circle cx="643.1" cy="811.7" r="1.95"/><circle cx="644.5" cy="811.9" r="1.95"/><circle cx="645.8" cy="811.5" r="1.95"/><circle cx="647.4" cy="812.5" r="1.95"/><circle cx="648.6" cy="812.3" r="1.95"/><circle cx="651.8" cy="813.5" r="1.95"/><circle cx="653.5" cy="812.4" r="1.95"/><circle cx="655.1" cy="813.0" r="1.95"/><circle cx="656.4" cy="814.6" r="1.95"/><circle cx="660.0" cy="812.6" r="1.95"/><circle cx="661.1" cy="813.3" r="1.95"/><circle cx="662.9" cy="813.3" r="1.95"/><circle cx="664.2" cy="812.1" r="1.95"/><circle cx="666.1" cy="813.1" r="1.95"/><circle cx="667.7" cy="812.6" r="1.95"/><circle cx="669.3" cy="812.0" r="1.95"/><circle cx="670.3" cy="811.4" r="1.95"/><circle cx="672.0" cy="811.8" r="1.95"/><circle cx="673.6" cy="811.3" r="1.95"/><circle cx="675.1" cy="811.3" r="1.95"/><circle cx="676.9" cy="810.5" r="1.95"/><circle cx="678.5" cy="810.5" r="1.95"/><circle cx="681.0" cy="810.2" r="1.95"/><circle cx="683.2" cy="809.7" r="1.95"/><circle cx="685.4" cy="810.5" r="1.95"/><circle cx="686.8" cy="810.7" r="1.95"/><circle cx="688.1" cy="811.8" r="1.95"/><circle cx="689.5" cy="812.9" r="1.95"/><circle cx="691.2" cy="812.5" r="1.95"/><circle cx="693.0" cy="813.1" r="1.95"/><circle cx="693.9" cy="813.8" r="1.95"/><circle cx="696.0" cy="813.1" r="1.95"/><circle cx="696.9" cy="813.7" r="1.95"/><circle cx="698.4" cy="814.4" r="1.95"/><circle cx="700.1" cy="812.9" r="1.95"/><circle cx="702.2" cy="812.9" r="1.95"/><circle cx="703.2" cy="814.3" r="1.95"/><circle cx="705.5" cy="813.9" r="1.95"/><circle cx="706.5" cy="815.4" r="1.95"/><circle cx="708.4" cy="814.2" r="1.95"/><circle cx="709.9" cy="815.4" r="1.95"/><circle cx="711.7" cy="813.8" r="1.95"/><circle cx="712.3" cy="815.5" r="1.95"/><circle cx="713.7" cy="816.1" r="1.95"/><circle cx="715.6" cy="816.4" r="1.95"/><circle cx="716.8" cy="816.0" r="1.95"/><circle cx="718.6" cy="816.9" r="1.95"/><circle cx="720.1" cy="817.1" r="1.95"/><circle cx="721.3" cy="817.1" r="1.95"/><circle cx="722.8" cy="817.7" r="1.95"/><circle cx="724.7" cy="817.1" r="1.95"/><circle cx="726.1" cy="818.2" r="1.95"/><circle cx="727.4" cy="818.7" r="1.95"/><circle cx="728.4" cy="819.5" r="1.95"/><circle cx="731.6" cy="820.0" r="1.95"/><circle cx="732.1" cy="821.8" r="1.95"/><circle cx="733.5" cy="822.0" r="1.95"/><circle cx="734.4" cy="823.8" r="1.95"/><circle cx="736.3" cy="823.4" r="1.95"/><circle cx="737.9" cy="824.7" r="1.95"/><circle cx="738.5" cy="825.6" r="1.95"/><circle cx="740.4" cy="825.7" r="1.95"/><circle cx="743.5" cy="827.7" r="1.95"/><circle cx="744.2" cy="828.9" r="1.95"/><circle cx="746.0" cy="829.6" r="1.95"/><circle cx="747.8" cy="830.2" r="1.95"/><circle cx="748.9" cy="830.2" r="1.95"/><circle cx="750.1" cy="832.5" r="1.95"/><circle cx="751.9" cy="833.0" r="1.95"/><circle cx="752.9" cy="833.9" r="1.95"/><circle cx="754.5" cy="833.5" r="1.95"/><circle cx="755.4" cy="834.7" r="1.95"/><circle cx="757.6" cy="834.7" r="1.95"/><circle cx="760.2" cy="835.1" r="1.95"/><circle cx="761.1" cy="834.6" r="1.95"/><circle cx="762.8" cy="833.6" r="1.95"/><circle cx="764.9" cy="833.6" r="1.95"/><circle cx="766.0" cy="832.7" r="1.95"/><circle cx="767.1" cy="831.6" r="1.95"/><circle cx="768.4" cy="831.2" r="1.95"/><circle cx="769.6" cy="830.8" r="1.95"/><circle cx="771.6" cy="830.6" r="1.95"/><circle cx="773.3" cy="831.9" r="1.95"/><circle cx="774.4" cy="831.1" r="1.95"/><circle cx="775.7" cy="831.3" r="1.95"/><circle cx="777.4" cy="831.2" r="1.95"/><circle cx="779.2" cy="830.4" r="1.95"/><circle cx="780.5" cy="831.7" r="1.95"/><circle cx="782.1" cy="830.5" r="1.95"/><circle cx="783.0" cy="829.4" r="1.95"/><circle cx="785.0" cy="829.6" r="1.95"/><circle cx="786.3" cy="828.5" r="1.95"/><circle cx="787.4" cy="827.9" r="1.95"/><circle cx="788.7" cy="827.1" r="1.95"/><circle cx="790.4" cy="827.3" r="1.95"/><circle cx="791.9" cy="827.1" r="1.95"/><circle cx="793.8" cy="826.1" r="1.95"/><circle cx="795.2" cy="825.9" r="1.95"/><circle cx="796.6" cy="824.8" r="1.95"/><circle cx="798.0" cy="824.8" r="1.95"/><circle cx="799.6" cy="824.5" r="1.95"/><circle cx="802.1" cy="824.0" r="1.95"/><circle cx="804.1" cy="824.5" r="1.95"/><circle cx="805.3" cy="823.6" r="1.95"/><circle cx="807.0" cy="824.9" r="1.95"/><circle cx="808.0" cy="823.3" r="1.95"/><circle cx="810.1" cy="824.4" r="1.95"/><circle cx="811.8" cy="824.2" r="1.95"/><circle cx="813.4" cy="823.6" r="1.95"/><circle cx="814.7" cy="824.0" r="1.95"/><circle cx="815.7" cy="824.4" r="1.95"/><circle cx="817.5" cy="826.1" r="1.95"/><circle cx="818.8" cy="825.5" r="1.95"/><circle cx="820.5" cy="825.7" r="1.95"/><circle cx="822.0" cy="826.5" r="1.95"/><circle cx="823.8" cy="826.2" r="1.95"/><circle cx="825.1" cy="825.5" r="1.95"/><circle cx="826.8" cy="826.6" r="1.95"/><circle cx="828.0" cy="826.5" r="1.95"/><circle cx="831.7" cy="825.4" r="1.95"/><circle cx="833.5" cy="825.2" r="1.95"/><circle cx="835.2" cy="825.1" r="1.95"/><circle cx="836.1" cy="824.2" r="1.95"/><circle cx="837.1" cy="823.0" r="1.95"/><circle cx="838.2" cy="822.3" r="1.95"/><circle cx="838.5" cy="821.0" r="1.95"/><circle cx="839.1" cy="819.4" r="1.95"/><circle cx="838.2" cy="817.2" r="1.95"/><circle cx="839.3" cy="816.2" r="1.95"/><circle cx="840.8" cy="815.4" r="1.95"/><circle cx="840.3" cy="813.8" r="1.95"/><circle cx="841.3" cy="811.9" r="1.95"/><circle cx="842.5" cy="810.6" r="1.95"/><circle cx="843.3" cy="809.6" r="1.95"/><circle cx="844.1" cy="808.2" r="1.95"/><circle cx="844.6" cy="806.2" r="1.95"/><circle cx="845.6" cy="804.9" r="1.95"/><circle cx="846.2" cy="804.4" r="1.95"/><circle cx="846.8" cy="802.1" r="1.95"/><circle cx="847.0" cy="800.1" r="1.95"/><circle cx="848.3" cy="799.6" r="1.95"/><circle cx="848.8" cy="797.9" r="1.95"/><circle cx="849.3" cy="797.0" r="1.95"/><circle cx="849.5" cy="795.4" r="1.95"/><circle cx="850.8" cy="793.9" r="1.95"/><circle cx="852.4" cy="793.2" r="1.95"/><circle cx="853.2" cy="791.7" r="1.95"/><circle cx="854.3" cy="791.0" r="1.95"/><circle cx="855.7" cy="789.3" r="1.95"/><circle cx="856.7" cy="789.1" r="1.95"/><circle cx="857.6" cy="787.7" r="1.95"/><circle cx="859.6" cy="786.8" r="1.95"/><circle cx="860.0" cy="784.7" r="1.95"/><circle cx="861.5" cy="784.7" r="1.95"/><circle cx="863.2" cy="783.4" r="1.95"/><circle cx="864.6" cy="782.9" r="1.95"/></g>
<path d="M160.0,171.0 C162.3,170.2 169.0,168.0 174.0,166.0 C179.0,164.0 185.7,160.6 190.0,159.0 C194.3,157.4 195.0,157.1 200.0,156.4 C205.0,155.7 213.3,155.1 220.0,155.0 C226.7,154.9 233.7,155.3 240.0,156.0 C246.3,156.7 252.3,157.8 258.0,159.0 C263.7,160.2 269.3,161.7 274.0,163.0 C278.7,164.3 281.3,165.2 286.0,167.0 C290.7,168.8 297.0,171.5 302.0,174.0 C307.0,176.5 312.0,180.2 316.0,182.0 C320.0,183.8 322.2,183.9 326.0,185.0 C329.8,186.1 335.3,187.1 339.0,188.3 C342.7,189.5 345.2,190.5 348.0,192.0 C350.8,193.5 353.5,195.8 355.5,197.3 C357.5,198.8 358.5,200.2 360.0,201.0 C361.5,201.8 362.8,202.2 364.5,202.2 C366.2,202.1 368.2,200.4 370.5,200.7 C372.8,201.0 376.0,202.2 378.0,204.0 C380.0,205.8 381.2,209.4 382.5,211.5 C383.8,213.6 384.0,215.2 385.5,216.8 C387.0,218.4 389.2,220.5 391.5,221.3 C393.8,222.1 396.8,221.1 399.0,221.7 C401.2,222.3 403.0,223.6 405.0,225.0 C407.0,226.4 408.5,227.9 411.0,230.3 C413.5,232.7 417.2,236.2 420.0,239.3 C422.8,242.4 426.1,246.5 427.5,249.0 C428.9,251.5 427.3,252.3 428.3,254.3 C429.3,256.3 431.9,258.9 433.5,261.0 C435.1,263.1 436.8,265.0 438.0,267.0 C439.2,269.0 440.2,271.5 441.0,273.0 C441.8,274.5 441.5,274.5 442.8,276.0 C444.1,277.5 447.7,280.2 448.8,282.0 C449.9,283.8 449.9,285.4 449.4,287.0 C448.9,288.6 447.4,290.6 446.0,291.5 C444.6,292.4 442.7,292.1 441.0,292.3 C439.3,292.5 436.8,291.8 435.6,292.5 C434.4,293.2 433.5,295.5 433.6,296.5 C433.7,297.5 434.9,298.1 436.0,298.5 C437.1,298.9 438.6,298.2 440.0,299.0 C441.4,299.8 443.5,301.5 444.2,303.0 C444.9,304.5 445.1,306.3 444.2,308.0 C443.2,309.7 439.9,311.3 438.5,313.0 C437.1,314.7 435.4,316.4 435.6,318.0 C435.8,319.6 438.4,320.5 439.5,322.5 C440.6,324.5 442.2,327.9 442.5,330.0 C442.8,332.1 441.8,333.4 441.0,335.0 C440.2,336.6 437.8,337.8 437.5,339.5 C437.2,341.2 439.8,343.6 439.5,345.0 C439.2,346.4 437.6,347.0 436.0,348.0 C434.4,349.0 431.3,349.7 430.0,351.0 C428.7,352.3 428.2,353.8 428.0,356.0 C427.8,358.2 428.3,362.0 428.5,364.0 C428.7,366.0 428.2,366.8 429.0,368.0 C429.8,369.2 433.3,369.9 433.5,371.0 C433.7,372.1 431.4,373.3 430.0,374.5 C428.6,375.7 426.3,376.4 425.0,378.0 C423.7,379.6 422.2,382.0 422.0,384.0 C421.8,386.0 422.3,388.5 424.0,390.0 C425.7,391.5 430.0,391.7 432.0,393.0 C434.0,394.3 435.2,395.8 436.0,398.0 C436.8,400.2 437.0,403.7 436.5,406.0 C436.0,408.3 434.4,410.5 433.0,412.0 C431.6,413.5 429.7,414.0 428.0,415.0 C426.3,416.0 424.0,416.8 423.0,418.0 C422.0,419.2 421.8,420.6 422.0,422.0 C422.2,423.4 424.7,425.2 424.0,426.5 C423.3,427.8 420.3,428.6 418.0,430.0 C415.7,431.4 412.3,433.3 410.0,435.0 C407.7,436.7 404.9,437.8 404.0,440.0 C403.1,442.2 404.2,445.0 404.5,448.0 C404.8,451.0 404.6,455.0 405.5,458.0 C406.4,461.0 408.2,463.8 410.0,466.0 C411.8,468.2 414.4,469.3 416.0,471.0 C417.6,472.7 418.8,473.5 419.5,476.0 C420.2,478.5 420.0,482.5 420.0,486.0 C420.0,489.5 419.0,493.8 419.5,497.0 C420.0,500.2 422.1,502.5 423.0,505.0 C423.9,507.5 424.2,509.3 425.0,512.0 C425.8,514.7 427.3,518.5 428.0,521.0 C428.7,523.5 428.0,524.8 429.0,527.0 C430.0,529.2 432.5,531.8 434.0,534.0 C435.5,536.2 437.2,537.7 438.0,540.0 C438.8,542.3 438.9,544.7 439.0,548.0 C439.1,551.3 438.8,556.7 438.5,560.0 C438.2,563.3 437.1,565.7 437.5,568.0 C437.9,570.3 439.8,571.7 441.0,574.0 C442.2,576.3 444.0,579.3 445.0,582.0 C446.0,584.7 446.8,587.7 447.0,590.0 C447.2,592.3 446.8,594.2 446.5,596.0 C446.2,597.8 445.2,599.2 445.5,601.0 C445.8,602.8 447.6,605.2 448.0,607.0 C448.4,608.8 448.3,610.3 448.0,612.0 C447.7,613.7 446.0,615.2 446.0,617.0 C446.0,618.8 446.7,621.3 448.0,623.0 C449.3,624.7 452.3,625.8 454.0,627.0 C455.7,628.2 457.5,628.5 458.0,630.0 C458.5,631.5 458.0,633.8 457.0,636.0 C456.0,638.2 453.7,641.2 452.0,643.0 C450.3,644.8 448.8,645.8 447.0,647.0 C445.2,648.2 443.0,648.5 441.0,650.0 C439.0,651.5 436.5,653.8 435.0,656.0 C433.5,658.2 432.8,660.3 432.0,663.0 C431.2,665.7 431.1,669.2 430.5,672.0 C429.9,674.8 429.6,677.1 428.5,680.0 C427.4,682.9 425.0,686.5 424.0,689.5 C423.0,692.5 422.3,695.4 422.5,698.0 C422.7,700.6 423.4,703.4 425.0,705.0 C426.6,706.6 429.5,707.3 432.0,707.5 C434.5,707.7 437.0,706.9 440.0,706.0 C443.0,705.1 446.7,703.0 450.0,702.0 C453.3,701.0 455.8,700.6 460.0,700.0 C464.2,699.4 470.0,699.0 475.0,698.5 C480.0,698.0 485.0,697.2 490.0,697.0 C495.0,696.8 498.8,697.5 505.0,697.3 C511.2,697.1 520.0,695.8 527.5,695.8 C535.0,695.8 542.5,696.9 550.0,697.0 C557.5,697.1 567.5,696.5 572.5,696.7 C577.5,697.0 572.2,697.0 580.0,698.5 C587.8,700.0 612.0,704.4 619.0,706.0 C626.0,707.6 620.4,707.5 622.0,708.0 C623.6,708.5 626.3,708.9 628.4,709.3 C630.5,709.7 632.6,709.6 634.5,710.6 C636.4,711.6 637.5,714.3 639.8,715.3 C642.0,716.2 645.8,716.0 648.0,716.3 C650.2,716.6 651.5,716.0 652.9,717.0 C654.3,718.0 654.4,721.7 656.4,722.6 C658.4,723.5 663.2,721.7 664.8,722.6 C666.4,723.5 664.8,726.7 666.2,728.2 C667.6,729.7 669.7,731.7 673.2,731.7 C676.7,731.7 683.0,728.1 687.2,728.2 C691.4,728.3 695.4,730.4 698.4,732.4 C701.4,734.4 703.1,738.6 705.4,740.1 C707.7,741.6 709.1,742.0 712.4,741.5 C715.7,741.0 720.8,739.0 725.0,737.3 C729.2,735.5 734.9,733.5 737.6,731.0 C740.3,728.5 740.8,725.9 741.1,722.6 C741.4,719.3 740.1,714.0 739.5,711.0 C738.9,708.0 739.0,707.3 737.5,704.5 C736.0,701.7 732.1,696.9 730.4,694.0 C728.7,691.1 728.6,689.1 727.5,687.0 C726.4,684.9 725.2,683.1 723.5,681.5 C721.8,679.9 719.8,678.9 717.5,677.5 C715.2,676.1 712.7,674.8 709.5,673.0 C706.3,671.2 701.2,668.6 698.2,666.7 C695.2,664.8 692.8,663.6 691.2,661.8 C689.6,660.0 689.2,657.5 688.5,656.0 C687.8,654.5 687.2,653.2 687.0,652.7" stroke="#D9D9D9" stroke-width="1.9"/>
<path d="M172.0,231.0 C174.3,230.5 181.7,229.0 186.0,228.0 C190.3,227.0 194.0,225.7 198.0,225.0 C202.0,224.3 205.3,223.7 210.0,223.6 C214.7,223.5 220.7,223.7 226.0,224.4 C231.3,225.1 237.0,226.6 242.0,228.0 C247.0,229.4 251.3,230.3 256.0,233.0 C260.7,235.7 266.0,240.5 270.0,244.0 C274.0,247.5 276.7,250.7 280.0,254.0 C283.3,257.3 287.0,260.0 290.0,264.0 C293.0,268.0 296.0,273.3 298.0,278.0 C300.0,282.7 301.0,287.3 302.0,292.0 C303.0,296.7 303.6,301.3 304.0,306.0 C304.4,310.7 304.6,316.2 304.6,320.0 C304.6,323.8 304.5,326.2 304.0,329.0 C303.5,331.8 301.9,333.0 301.8,336.5 C301.7,340.0 303.7,346.5 303.3,350.0 C302.9,353.5 300.4,354.5 299.5,357.5 C298.6,360.5 298.2,364.2 298.0,368.0 C297.8,371.8 297.8,376.5 298.0,380.0 C298.2,383.5 300.0,386.8 299.5,389.0 C299.0,391.2 296.4,391.8 295.0,393.5 C293.6,395.2 291.7,396.8 291.3,399.5 C290.9,402.2 292.4,405.8 292.8,410.0 C293.2,414.2 292.4,420.5 293.5,425.0 C294.6,429.5 298.1,433.2 299.5,437.0 C300.9,440.8 302.1,444.2 301.8,447.5 C301.6,450.8 298.8,453.6 298.0,456.5 C297.2,459.4 297.2,461.9 297.0,465.0 C296.8,468.1 297.1,472.1 296.5,475.0 C295.9,477.9 293.5,479.8 293.5,482.5 C293.5,485.2 295.2,488.5 296.5,491.5 C297.8,494.5 300.2,497.5 301.0,500.5 C301.8,503.5 301.1,506.2 301.0,509.5 C300.9,512.8 299.6,516.8 300.3,520.0 C301.1,523.2 304.5,526.2 305.5,529.0 C306.5,531.8 307.3,534.2 306.3,536.5 C305.3,538.8 301.2,540.2 299.5,542.5 C297.8,544.8 296.1,547.2 295.8,550.0 C295.6,552.8 297.0,555.5 298.0,559.0 C299.0,562.5 301.6,567.8 301.8,571.0 C302.1,574.2 301.1,576.5 299.5,578.5 C297.9,580.5 294.4,581.2 292.0,583.0 C289.6,584.8 286.7,586.0 285.3,589.0 C283.9,592.0 285.1,598.1 283.8,601.0 C282.5,603.9 277.7,604.1 277.4,606.3 C277.1,608.5 281.1,610.9 281.9,614.4 C282.6,617.9 283.2,623.1 281.9,627.0 C280.5,630.9 275.4,634.3 273.8,637.8 C272.2,641.2 273.8,645.8 272.0,647.7 C270.2,649.7 264.9,648.5 263.0,649.5 C261.1,650.5 260.8,651.8 260.3,654.0 C259.9,656.2 261.4,660.5 260.3,663.0 C259.2,665.5 256.4,666.6 254.0,669.3 C251.6,672.0 247.2,675.8 245.9,679.2 C244.6,682.7 247.6,687.1 245.9,690.0 C244.2,692.9 239.4,694.2 236.0,696.3 C232.6,698.4 227.9,699.8 225.2,702.6 C222.5,705.5 221.3,709.5 219.8,713.4 C218.3,717.3 217.1,721.5 216.2,726.0 C215.3,730.5 214.4,735.6 214.4,740.4 C214.4,745.2 215.3,750.6 216.2,754.8 C217.1,759.0 218.8,762.9 219.8,765.6 C220.8,768.4 220.6,769.2 222.0,771.3 C223.4,773.4 226.2,775.1 228.0,778.0 C229.8,780.9 230.8,784.8 232.5,788.5 C234.2,792.2 236.2,796.2 238.5,800.5 C240.8,804.8 243.2,810.6 246.0,814.0 C248.8,817.4 251.8,819.5 255.0,820.8 C258.2,822.0 262.0,822.1 265.5,821.5 C269.0,820.9 273.0,817.4 276.0,817.0 C279.0,816.6 281.0,817.0 283.5,819.3 C286.0,821.5 290.2,826.9 291.0,830.5 C291.8,834.1 288.4,837.2 288.0,841.0 C287.6,844.8 287.6,850.9 288.8,853.0 C290.1,855.1 293.1,854.8 295.5,853.8 C297.9,852.8 299.8,848.8 303.0,847.0 C306.2,845.2 310.5,843.9 315.0,843.3 C319.5,842.7 325.0,842.8 330.0,843.3 C335.0,843.8 339.2,845.3 345.0,846.3 C350.8,847.3 359.2,848.0 365.0,849.3 C370.8,850.6 375.0,853.7 380.0,854.2 C385.0,854.7 391.0,853.4 395.0,852.3 C399.0,851.2 401.5,849.5 404.0,847.8 C406.5,846.0 407.8,843.0 410.0,841.8 C412.2,840.5 414.8,840.4 417.5,840.3 C420.2,840.2 425.0,842.1 426.5,841.0 C428.0,839.9 425.5,835.2 426.5,833.5 C427.5,831.8 429.0,832.0 432.5,830.5 C436.0,829.0 443.8,826.0 447.5,824.5 C451.2,823.0 452.2,823.2 455.0,821.5 C457.8,819.8 460.8,816.2 464.0,814.0 C467.2,811.8 472.2,810.2 474.5,808.0 C476.8,805.8 476.2,802.5 477.5,800.5 C478.8,798.5 479.5,797.0 482.0,796.0 C484.5,795.0 489.2,795.2 492.5,794.8 C495.8,794.4 498.7,795.2 502.0,793.5 C505.3,791.8 510.0,787.0 512.5,784.5 C515.0,782.0 514.5,780.0 517.0,778.5 C519.5,777.0 522.5,776.2 527.5,775.5 C532.5,774.8 540.8,773.8 547.0,774.0 C553.2,774.2 559.5,775.5 565.0,777.0 C570.5,778.5 576.5,780.8 580.0,783.0 C583.5,785.2 583.5,788.8 586.0,790.5 C588.5,792.2 592.0,792.9 595.0,793.5 C598.0,794.1 600.5,792.8 604.0,794.3 C607.5,795.8 613.0,799.6 616.0,802.5 C619.0,805.4 620.5,808.5 622.0,811.5 C623.5,814.5 623.0,818.4 625.0,820.5 C627.0,822.6 632.0,823.7 634.0,824.3 C636.0,824.9 636.3,825.5 637.0,824.0 C637.7,822.5 637.0,817.0 638.3,815.0 C639.6,813.0 641.4,812.2 645.0,812.0 C648.6,811.8 654.2,813.8 660.0,813.5 C665.8,813.2 674.0,810.6 679.5,810.5 C685.0,810.4 687.5,812.0 693.0,812.8 C698.5,813.5 707.0,814.0 712.5,815.0 C718.0,816.0 721.2,816.9 726.0,818.8 C730.8,820.7 735.8,823.5 741.0,826.3 C746.2,829.0 753.0,834.4 757.5,835.3 C762.0,836.2 764.1,832.2 768.0,831.5 C771.9,830.8 777.0,831.6 781.0,830.8 C785.0,830.0 788.3,828.0 792.0,826.9 C795.7,825.8 799.3,824.6 803.0,824.2 C806.7,823.8 810.0,824.3 814.0,824.7 C818.0,825.1 823.4,826.6 827.2,826.4 C831.1,826.2 835.1,825.2 837.1,823.6 C839.1,822.0 837.8,820.3 839.3,817.0 C840.8,813.7 844.1,807.5 845.9,803.8 C847.7,800.1 848.3,797.8 850.3,795.0 C852.3,792.2 855.5,789.4 858.0,787.3 C860.5,785.2 864.0,783.1 865.2,782.2" stroke="#D9D9D9" stroke-width="1.9"/>
<circle cx="167.2" cy="201.2" r="5.2" fill="#FF0000" stroke="none"/>
<line x1="160" y1="170.8" x2="172" y2="231.2" stroke="#F08080" stroke-width="1.9" stroke-linecap="butt"/>
<line x1="686.9" y1="652.6" x2="865.2" y2="782" stroke="#168816" stroke-width="2.0" stroke-linecap="butt"/>
<circle cx="808.5" cy="750.5" r="5.3" fill="#008000" stroke="none"/>
<g fill="#BA55D3" stroke="none"><circle cx="171.4" cy="200.4" r="2.6"/><circle cx="179.4" cy="198.4" r="2.6"/><circle cx="186.4" cy="197.4" r="2.6"/><circle cx="193.4" cy="195.2" r="2.6"/><circle cx="201.4" cy="193.2" r="2.6"/><circle cx="208.4" cy="191.2" r="2.6"/><circle cx="216.4" cy="190.0" r="2.6"/><circle cx="223.4" cy="190.2" r="2.6"/><circle cx="231.4" cy="191.4" r="2.6"/><circle cx="239.4" cy="192.4" r="2.6"/><circle cx="246.4" cy="193.2" r="2.6"/><circle cx="254.4" cy="195.4" r="2.6"/><circle cx="261.4" cy="197.4" r="2.6"/><circle cx="268.4" cy="199.4" r="2.6"/><circle cx="275.4" cy="202.2" r="2.6"/><circle cx="281.4" cy="205.2" r="2.6"/><circle cx="288.4" cy="209.2" r="2.6"/><circle cx="294.4" cy="212.2" r="2.6"/><circle cx="300.4" cy="215.4" r="2.6"/><circle cx="307.4" cy="218.2" r="2.6"/><circle cx="313.4" cy="221.2" r="2.6"/><circle cx="319.4" cy="226.2" r="2.6"/><circle cx="324.4" cy="230.2" r="2.6"/><circle cx="330.0" cy="234.0" r="2.6"/><circle cx="335.3" cy="238.2" r="2.6"/><circle cx="339.3" cy="242.3" r="2.6"/><circle cx="344.3" cy="247.5" r="2.6"/><circle cx="349.2" cy="251.4" r="2.6"/><circle cx="354.3" cy="255.3" r="2.6"/><circle cx="359.3" cy="260.3" r="2.6"/><circle cx="363.3" cy="265.5" r="2.6"/><circle cx="365.6" cy="271.2" r="2.6"/><circle cx="367.5" cy="276.3" r="2.6"/><circle cx="369.3" cy="281.6" r="2.6"/><circle cx="369.3" cy="287.3" r="2.6"/><circle cx="368.6" cy="293.3" r="2.6"/><circle cx="368.6" cy="299.3" r="2.6"/><circle cx="369.8" cy="304.5" r="2.6"/><circle cx="370.5" cy="310.5" r="2.6"/><circle cx="371.6" cy="316.2" r="2.6"/><circle cx="371.6" cy="321.3" r="2.6"/><circle cx="370.8" cy="327.5" r="2.6"/><circle cx="370.3" cy="333.5" r="2.6"/><circle cx="368.5" cy="338.3" r="2.6"/><circle cx="367.5" cy="344.3" r="2.6"/><circle cx="366.3" cy="349.6" r="2.6"/><circle cx="365.2" cy="355.6" r="2.6"/><circle cx="364.3" cy="361.3" r="2.6"/><circle cx="363.4" cy="366.5" r="2.6"/><circle cx="361.3" cy="372.4" r="2.6"/><circle cx="360.4" cy="377.9" r="2.6"/><circle cx="360.4" cy="383.2" r="2.6"/><circle cx="361.3" cy="389.3" r="2.6"/><circle cx="361.3" cy="395.3" r="2.6"/><circle cx="361.3" cy="400.6" r="2.6"/><circle cx="360.4" cy="406.3" r="2.6"/><circle cx="358.3" cy="411.4" r="2.6"/><circle cx="355.3" cy="417.4" r="2.6"/><circle cx="353.2" cy="422.3" r="2.6"/><circle cx="352.3" cy="428.0" r="2.6"/><circle cx="352.3" cy="433.4" r="2.6"/><circle cx="352.3" cy="439.4" r="2.6"/><circle cx="353.2" cy="445.1" r="2.6"/><circle cx="353.2" cy="451.4" r="2.6"/><circle cx="353.2" cy="456.2" r="2.6"/><circle cx="352.3" cy="462.2" r="2.6"/><circle cx="352.5" cy="468.2" r="2.6"/><circle cx="353.5" cy="473.2" r="2.6"/><circle cx="355.5" cy="479.2" r="2.6"/><circle cx="356.5" cy="484.0" r="2.6"/><circle cx="359.5" cy="490.0" r="2.6"/><circle cx="360.4" cy="495.4" r="2.6"/><circle cx="361.3" cy="501.3" r="2.6"/><circle cx="362.5" cy="507.3" r="2.6"/><circle cx="363.4" cy="512.4" r="2.6"/><circle cx="364.3" cy="518.2" r="2.6"/><circle cx="366.3" cy="524.2" r="2.6"/><circle cx="367.5" cy="529.3" r="2.6"/><circle cx="369.4" cy="535.0" r="2.6"/><circle cx="369.4" cy="540.6" r="2.6"/><circle cx="370.3" cy="546.3" r="2.6"/><circle cx="370.3" cy="552.3" r="2.6"/><circle cx="369.4" cy="557.5" r="2.6"/><circle cx="369.4" cy="563.2" r="2.6"/><circle cx="369.4" cy="569.2" r="2.6"/><circle cx="370.3" cy="574.3" r="2.6"/><circle cx="370.3" cy="580.3" r="2.6"/><circle cx="371.2" cy="586.0" r="2.6"/><circle cx="371.2" cy="591.4" r="2.6"/><circle cx="370.3" cy="597.3" r="2.6"/><circle cx="368.4" cy="603.3" r="2.6"/><circle cx="366.4" cy="608.4" r="2.6"/><circle cx="364.2" cy="614.0" r="2.6"/><circle cx="364.2" cy="619.4" r="2.6"/><circle cx="364.2" cy="625.2" r="2.6"/><circle cx="363.1" cy="631.5" r="2.6"/><circle cx="361.3" cy="636.4" r="2.6"/><circle cx="358.4" cy="641.4" r="2.6"/><circle cx="356.2" cy="647.3" r="2.6"/><circle cx="353.4" cy="652.6" r="2.6"/><circle cx="352.3" cy="658.1" r="2.6"/><circle cx="350.5" cy="663.4" r="2.6"/><circle cx="348.1" cy="669.3" r="2.6"/><circle cx="345.1" cy="674.3" r="2.6"/><circle cx="341.3" cy="679.4" r="2.6"/><circle cx="339.0" cy="685.1" r="2.6"/><circle cx="337.2" cy="690.4" r="2.6"/><circle cx="334.3" cy="695.4" r="2.6"/><circle cx="333.2" cy="701.3" r="2.6"/><circle cx="332.3" cy="707.3" r="2.6"/><circle cx="332.3" cy="712.1" r="2.6"/><circle cx="331.4" cy="718.3" r="2.6"/><circle cx="330.5" cy="724.2" r="2.6"/><circle cx="329.2" cy="729.1" r="2.6"/><circle cx="328.2" cy="735.4" r="2.6"/><circle cx="327.1" cy="741.3" r="2.6"/><circle cx="330.1" cy="746.2" r="2.6"/><circle cx="334.3" cy="751.2" r="2.6"/><circle cx="340.0" cy="755.2" r="2.6"/><circle cx="346.2" cy="758.4" r="2.6"/><circle cx="352.3" cy="761.4" r="2.6"/><circle cx="359.3" cy="764.3" r="2.6"/><circle cx="366.3" cy="767.2" r="2.6"/><circle cx="372.2" cy="770.2" r="2.6"/><circle cx="380.3" cy="769.3" r="2.6"/><circle cx="388.6" cy="767.0" r="2.6"/><circle cx="395.3" cy="766.3" r="2.6"/><circle cx="402.5" cy="764.4" r="2.6"/><circle cx="410.4" cy="763.3" r="2.6"/><circle cx="417.5" cy="761.2" r="2.6"/><circle cx="425.4" cy="759.7" r="2.6"/><circle cx="432.5" cy="758.2" r="2.6"/><circle cx="440.5" cy="756.5" r="2.6"/><circle cx="447.5" cy="754.5" r="2.6"/><circle cx="454.5" cy="752.5" r="2.6"/><circle cx="462.5" cy="750.5" r="2.6"/><circle cx="468.5" cy="747.5" r="2.6"/><circle cx="475.5" cy="745.5" r="2.6"/><circle cx="482.5" cy="742.5" r="2.6"/><circle cx="489.5" cy="740.5" r="2.6"/><circle cx="497.4" cy="739.4" r="2.6"/><circle cx="504.3" cy="738.3" r="2.6"/><circle cx="512.2" cy="737.2" r="2.6"/><circle cx="520.3" cy="736.2" r="2.6"/><circle cx="528.3" cy="736.2" r="2.6"/><circle cx="535.3" cy="736.2" r="2.6"/><circle cx="543.3" cy="736.2" r="2.6"/><circle cx="551.2" cy="736.2" r="2.6"/><circle cx="560.0" cy="736.3" r="2.6"/><circle cx="566.4" cy="737.4" r="2.6"/><circle cx="574.4" cy="738.4" r="2.6"/><circle cx="582.4" cy="739.4" r="2.6"/><circle cx="589.4" cy="742.4" r="2.6"/><circle cx="596.4" cy="744.2" r="2.6"/><circle cx="602.5" cy="747.5" r="2.6"/><circle cx="609.5" cy="750.5" r="2.6"/><circle cx="616.5" cy="752.5" r="2.6"/><circle cx="622.5" cy="756.5" r="2.6"/><circle cx="628.5" cy="759.5" r="2.6"/><circle cx="635.5" cy="762.5" r="2.6"/><circle cx="642.5" cy="765.5" r="2.6"/><circle cx="649.5" cy="768.5" r="2.6"/><circle cx="655.5" cy="770.6" r="2.6"/><circle cx="663.3" cy="772.3" r="2.6"/><circle cx="671.3" cy="772.3" r="2.6"/><circle cx="678.3" cy="774.2" r="2.6"/><circle cx="686.3" cy="775.3" r="2.6"/><circle cx="693.3" cy="776.3" r="2.6"/><circle cx="701.3" cy="777.2" r="2.6"/><circle cx="709.2" cy="777.2" r="2.6"/><circle cx="716.3" cy="778.3" r="2.6"/><circle cx="724.2" cy="778.3" r="2.6"/><circle cx="732.3" cy="779.3" r="2.6"/><circle cx="740.3" cy="779.3" r="2.6"/><circle cx="747.3" cy="779.3" r="2.6"/><circle cx="755.3" cy="778.3" r="2.6"/><circle cx="763.2" cy="778.3" r="2.6"/><circle cx="771.5" cy="778.4" r="2.6"/><circle cx="778.2" cy="776.3" r="2.6"/><circle cx="783.4" cy="772.5" r="2.6"/><circle cx="789.3" cy="768.4" r="2.6"/><circle cx="793.3" cy="763.3" r="2.6"/><circle cx="798.4" cy="759.6" r="2.6"/><circle cx="803.6" cy="754.3" r="2.6"/><circle cx="808.5" cy="750.5" r="2.6"/></g>
</g>
<rect x="125.5" y="120.5" width="775" height="770" fill="none" stroke="#000" stroke-width="1.1"/>
<line x1="172.50" y1="890.5" x2="172.50" y2="895.4" stroke="#000" stroke-width="1.1"/>
<text x="172.50" y="910.6" font-size="14.3" text-anchor="middle" textLength="8.6" lengthAdjust="spacingAndGlyphs" fill="#000">0</text>
<line x1="327.75" y1="890.5" x2="327.75" y2="895.4" stroke="#000" stroke-width="1.1"/>
<text x="327.75" y="910.6" font-size="14.3" text-anchor="middle" textLength="25.0" lengthAdjust="spacingAndGlyphs" fill="#000">200</text>
<line x1="483.00" y1="890.5" x2="483.00" y2="895.4" stroke="#000" stroke-width="1.1"/>
<text x="483.00" y="910.6" font-size="14.3" text-anchor="middle" textLength="25.0" lengthAdjust="spacingAndGlyphs" fill="#000">400</text>
<line x1="638.25" y1="890.5" x2="638.25" y2="895.4" stroke="#000" stroke-width="1.1"/>
<text x="638.25" y="910.6" font-size="14.3" text-anchor="middle" textLength="25.0" lengthAdjust="spacingAndGlyphs" fill="#000">600</text>
<line x1="793.50" y1="890.5" x2="793.50" y2="895.4" stroke="#000" stroke-width="1.1"/>
<text x="793.50" y="910.6" font-size="14.3" text-anchor="middle" textLength="25.0" lengthAdjust="spacingAndGlyphs" fill="#000">800</text>
<line x1="120.6" y1="231.40" x2="125.5" y2="231.40" stroke="#000" stroke-width="1.1"/>
<text x="115" y="236.60" font-size="14.3" text-anchor="end" textLength="8.0" lengthAdjust="spacingAndGlyphs" fill="#000">0</text>
<line x1="120.6" y1="345.40" x2="125.5" y2="345.40" stroke="#000" stroke-width="1.1"/>
<text x="115" y="350.60" font-size="14.3" text-anchor="end" textLength="36.0" lengthAdjust="spacingAndGlyphs" fill="#000">−200</text>
<line x1="120.6" y1="459.40" x2="125.5" y2="459.40" stroke="#000" stroke-width="1.1"/>
<text x="115" y="464.60" font-size="14.3" text-anchor="end" textLength="36.0" lengthAdjust="spacingAndGlyphs" fill="#000">−400</text>
<line x1="120.6" y1="573.40" x2="125.5" y2="573.40" stroke="#000" stroke-width="1.1"/>
<text x="115" y="578.60" font-size="14.3" text-anchor="end" textLength="36.0" lengthAdjust="spacingAndGlyphs" fill="#000">−600</text>
<line x1="120.6" y1="687.40" x2="125.5" y2="687.40" stroke="#000" stroke-width="1.1"/>
<text x="115" y="692.60" font-size="14.3" text-anchor="end" textLength="36.0" lengthAdjust="spacingAndGlyphs" fill="#000">−800</text>
<line x1="120.6" y1="801.40" x2="125.5" y2="801.40" stroke="#000" stroke-width="1.1"/>
<text x="115" y="806.60" font-size="14.3" text-anchor="end" textLength="45.0" lengthAdjust="spacingAndGlyphs" fill="#000">−1000</text>
<text x="512.8" y="930.7" font-size="14.3" text-anchor="middle" textLength="163" lengthAdjust="spacingAndGlyphs" fill="#000">Relative Distance X (m)</text>
<text transform="translate(59,505.5) rotate(-90)" x="0" y="0" font-size="14.3" text-anchor="middle" textLength="161.5" lengthAdjust="spacingAndGlyphs" fill="#000">Relative Distance Y (m)</text>
<rect x="576" y="127.8" width="317" height="108.2" rx="2.8" ry="2.8" fill="#fff" fill-opacity="0.8" stroke="#CCCCCC" stroke-width="1.1"/>
<circle cx="595.5" cy="140.0" r="2.3" fill="#1E90FF"/>
<text x="620.3" y="143.0" font-size="14.3" textLength="75.8" lengthAdjust="spacingAndGlyphs" fill="#000">Right Bank</text>
<circle cx="595.5" cy="160.8" r="2.3" fill="#FFA500"/>
<text x="620.3" y="163.8" font-size="14.3" textLength="65.4" lengthAdjust="spacingAndGlyphs" fill="#000">Left Bank</text>
<circle cx="595.5" cy="181.7" r="2.3" fill="#BA55D3"/>
<text x="620.3" y="184.7" font-size="14.3" textLength="267.4" lengthAdjust="spacingAndGlyphs" fill="#000">Equal Distance Centerline Coordinates</text>
<circle cx="595.5" cy="202.6" r="5.4" fill="#008000"/>
<text x="620.3" y="205.6" font-size="14.3" textLength="95.8" lengthAdjust="spacingAndGlyphs" fill="#000">Starting Node</text>
<circle cx="595.5" cy="223.4" r="5.4" fill="#FF0000"/>
<text x="620.3" y="226.4" font-size="14.3" textLength="88.2" lengthAdjust="spacingAndGlyphs" fill="#000">Ending Node</text>
</svg></body></html>
